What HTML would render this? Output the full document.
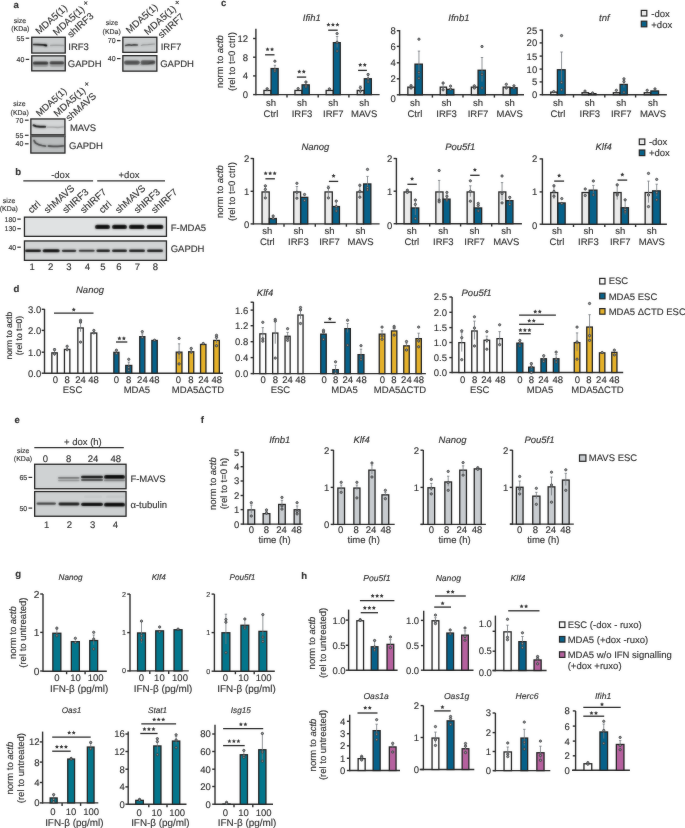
<!DOCTYPE html>
<html><head><meta charset="utf-8"><style>
html,body{margin:0;padding:0;background:#fff;width:685px;height:828px;overflow:hidden}
svg{display:block;font-family:"Liberation Sans",sans-serif;fill:#2e2e2e;will-change:transform;text-rendering:geometricPrecision}
text{stroke:#2e2e2e;stroke-width:0.14px;paint-order:stroke}
</style></head><body>
<svg width="685" height="828" viewBox="0 0 685 828">
<defs><filter id="bl" filterUnits="userSpaceOnUse" x="0" y="0" width="685" height="828" color-interpolation-filters="sRGB"><feGaussianBlur in="SourceGraphic" stdDeviation="0.85" result="b"/><feComposite in="SourceGraphic" in2="b" operator="arithmetic" k1="0" k2="0.45" k3="0.55" k4="0"/></filter>
<filter id="soft" filterUnits="userSpaceOnUse" x="0" y="0" width="685" height="828" color-interpolation-filters="sRGB"><feGaussianBlur in="SourceGraphic" stdDeviation="0.8" result="b"/><feComposite in="SourceGraphic" in2="b" operator="arithmetic" k1="0" k2="0.8" k3="0.2" k4="0"/></filter></defs>
<g filter="url(#soft)"><rect x="0" y="0" width="685" height="828" fill="#fff"/>
<text x="13.4" y="7.5" font-size="9.6" style="font-weight:bold;">a</text>
<rect x="31.75" y="37.25" width="33.5" height="15.8" fill="#c9cccd" stroke="#222" stroke-width="1.3"/>
<rect x="31.75" y="55.85" width="33.5" height="15" fill="#c9cccd" stroke="#222" stroke-width="1.3"/>
<path d="M33.6 44.5 L38 44.6 L43 44.9 L46.3 45.4" fill="none" stroke="#000" stroke-width="1.7" stroke-linecap="round" stroke-linejoin="round" opacity="1" filter="url(#bl)"/>
<path d="M45 45.3 L46.4 45.6" fill="none" stroke="#000" stroke-width="1.8" stroke-linecap="round" stroke-linejoin="round" opacity="0.8" filter="url(#bl)"/>
<path d="M50.5 45.5 L56 45.2 L63.5 45.5" fill="none" stroke="#000" stroke-width="1.3" stroke-linecap="round" stroke-linejoin="round" opacity="0.28" filter="url(#bl)"/>
<rect x="32.8" y="61.4" width="15.5" height="3" rx="1.5" fill="#000" opacity="0.72" filter="url(#bl)"/>
<rect x="49.5" y="61.2" width="14.7" height="3" rx="1.5" fill="#000" opacity="0.68" filter="url(#bl)"/>
<rect x="32.8" y="62.9" width="15.5" height="4.2" rx="2.1" fill="#000" opacity="0.22" filter="url(#bl)"/>
<rect x="49.5" y="62.9" width="14.7" height="4.2" rx="2.1" fill="#000" opacity="0.2" filter="url(#bl)"/>
<text x="20" y="22.52" font-size="7" text-anchor="middle">size</text>
<text x="20.3" y="31.42" font-size="7" text-anchor="middle">(KDa)</text>
<text x="24.3" y="40.72" font-size="7" text-anchor="end">55</text>
<line x1="25.7" y1="38.2" x2="29.2" y2="38.2" stroke="#2b2b2b" stroke-width="1.2"/>
<text x="24.3" y="61.92" font-size="7" text-anchor="end">40</text>
<line x1="25.7" y1="59.4" x2="29.2" y2="59.4" stroke="#2b2b2b" stroke-width="1.2"/>
<text x="68.3" y="49.62" font-size="9.5">IRF3</text>
<text x="67.8" y="67.02" font-size="9.5">GAPDH</text>
<text x="0" y="0" font-size="9.7" transform="translate(39 34.8) rotate(-42)">MDA5(1)</text>
<text x="0" y="0" font-size="9.7" transform="translate(56.4 36) rotate(-42)">MDA5(1) <tspan font-size="8.5" dy="-2.2">+</tspan></text>
<text x="0" y="0" font-size="9.7" transform="translate(71 37.9) rotate(-42)">shIRF3</text>
<rect x="122.85" y="37.25" width="34" height="15.1" fill="#c9cccd" stroke="#222" stroke-width="1.3"/>
<rect x="122.85" y="55.65" width="34" height="15.5" fill="#c9cccd" stroke="#222" stroke-width="1.3"/>
<path d="M125.5 45.4 L129 44.8 L131.5 45.2 L134 44.7 L137.4 45" fill="none" stroke="#000" stroke-width="1.5" stroke-linecap="round" stroke-linejoin="round" opacity="0.85" filter="url(#bl)"/>
<path d="M141.3 45.5 L143 44.9 L148 44.6 L154.5 44" fill="none" stroke="#000" stroke-width="1.2" stroke-linecap="round" stroke-linejoin="round" opacity="0.35" filter="url(#bl)"/>
<rect x="124" y="60.4" width="15.8" height="4.4" rx="2.2" fill="#000" opacity="0.62" filter="url(#bl)"/>
<rect x="140.6" y="60.3" width="14.6" height="4.2" rx="2.1" fill="#000" opacity="0.58" filter="url(#bl)"/>
<path d="M141 64.5 L148 64 L154.8 61.5" fill="none" stroke="#000" stroke-width="1.4" stroke-linecap="round" stroke-linejoin="round" opacity="0.3" filter="url(#bl)"/>
<text x="111.9" y="25.02" font-size="7" text-anchor="middle">size</text>
<text x="111.7" y="33.52" font-size="7" text-anchor="middle">(KDa)</text>
<text x="115.6" y="42.82" font-size="7" text-anchor="end">70</text>
<line x1="117" y1="40.6" x2="120.5" y2="40.6" stroke="#2b2b2b" stroke-width="1.3"/>
<text x="115.6" y="61.12" font-size="7" text-anchor="end">40</text>
<line x1="117" y1="58.6" x2="120.5" y2="58.6" stroke="#2b2b2b" stroke-width="1.2"/>
<text x="160.7" y="50.42" font-size="9.5">IRF7</text>
<text x="160.2" y="66.92" font-size="9.5">GAPDH</text>
<text x="0" y="0" font-size="9.7" transform="translate(129.6 33.9) rotate(-42)">MDA5(1)</text>
<text x="0" y="0" font-size="9.7" transform="translate(147.8 35.5) rotate(-42)">MDA5(1) <tspan font-size="8.5" dy="-2.2">+</tspan></text>
<text x="0" y="0" font-size="9.7" transform="translate(161.6 38.5) rotate(-42)">shIRF7</text>
<rect x="30.85" y="118.95" width="34.1" height="15.8" fill="#d4d6d7" stroke="#222" stroke-width="1.3"/>
<rect x="30.85" y="136.25" width="34.1" height="16.8" fill="#babdbe" stroke="#222" stroke-width="1.3"/>
<rect x="30.2" y="134.6" width="35.4" height="2.6" fill="#555"/>
<path d="M33.5 125.3 L36 126.2 L40 126.7 L45.2 126.8" fill="none" stroke="#000" stroke-width="2" stroke-linecap="round" stroke-linejoin="round" opacity="1" filter="url(#bl)"/>
<path d="M47.5 127.2 L53 127.2 L58 127.5 L63.5 126.8" fill="none" stroke="#000" stroke-width="1.3" stroke-linecap="round" stroke-linejoin="round" opacity="0.3" filter="url(#bl)"/>
<path d="M34 140.5 L35.5 143 L38.5 144.6 L42 145.5 L45.5 146.2" fill="none" stroke="#000" stroke-width="1.7" stroke-linecap="round" stroke-linejoin="round" opacity="0.72" filter="url(#bl)"/>
<path d="M48.5 146 L53 146.4 L58 146.4 L63.5 145.8" fill="none" stroke="#000" stroke-width="1.8" stroke-linecap="round" stroke-linejoin="round" opacity="0.7" filter="url(#bl)"/>
<text x="19.5" y="105.62" font-size="7" text-anchor="middle">size</text>
<text x="19.7" y="114.52" font-size="7" text-anchor="middle">(KDa)</text>
<text x="23.4" y="122.72" font-size="7" text-anchor="end">70</text>
<line x1="24.9" y1="120.2" x2="28.6" y2="120.2" stroke="#2b2b2b" stroke-width="1.2"/>
<text x="23.4" y="137.82" font-size="7" text-anchor="end">55</text>
<line x1="24.9" y1="135.3" x2="28.6" y2="135.3" stroke="#2b2b2b" stroke-width="1.2"/>
<text x="23.4" y="146.32" font-size="7" text-anchor="end">40</text>
<line x1="24.9" y1="143.8" x2="28.6" y2="143.8" stroke="#2b2b2b" stroke-width="1.2"/>
<text x="69.9" y="131.42" font-size="9.5">MAVS</text>
<text x="69" y="149.12" font-size="9.5">GAPDH</text>
<text x="0" y="0" font-size="9.4" transform="translate(39.4 117) rotate(-42)">MDA5(1)</text>
<text x="0" y="0" font-size="9.7" transform="translate(57.3 117.2) rotate(-42)">MDA5(1) <tspan font-size="8.5" dy="-2.2">+</tspan></text>
<text x="0" y="0" font-size="9.7" transform="translate(69.3 121.6) rotate(-42)">shMAVS</text>
<text x="15.3" y="174.6" font-size="9.6" style="font-weight:bold;">b</text>
<text x="60.4" y="178.42" font-size="9.5" text-anchor="middle">-dox</text>
<text x="129" y="178.42" font-size="9.5" text-anchor="middle">+dox</text>
<line x1="23.3" y1="180.9" x2="93.1" y2="180.9" stroke="#2b2b2b" stroke-width="1.2"/>
<line x1="97.2" y1="180.9" x2="165" y2="180.9" stroke="#2b2b2b" stroke-width="1.2"/>
<text x="9.1" y="202.62" font-size="7" text-anchor="middle">size</text>
<text x="8.8" y="211.12" font-size="7" text-anchor="middle">(KDa)</text>
<rect x="24.45" y="217.15" width="142" height="19.2" fill="#e0e2e3" stroke="#222" stroke-width="1.3"/>
<rect x="24.45" y="240.95" width="142" height="19.4" fill="#d2d4d5" stroke="#222" stroke-width="1.3"/>
<text x="16.2" y="221.62" font-size="7" text-anchor="end">180</text>
<line x1="17.3" y1="219.1" x2="20.8" y2="219.1" stroke="#2b2b2b" stroke-width="1.2"/>
<text x="16.2" y="231.22" font-size="7" text-anchor="end">130</text>
<line x1="17.3" y1="228.7" x2="20.8" y2="228.7" stroke="#2b2b2b" stroke-width="1.2"/>
<text x="16.2" y="249.72" font-size="7" text-anchor="end">40</text>
<line x1="17.3" y1="247.2" x2="20.8" y2="247.2" stroke="#2b2b2b" stroke-width="1.2"/>
<text x="170.7" y="230.82" font-size="9.5">F-MDA5</text>
<text x="170.7" y="252.02" font-size="9.5">GAPDH</text>
<rect x="95" y="224.7" width="15" height="4.4" rx="2.2" fill="#000" opacity="0.97" filter="url(#bl)"/>
<rect x="112" y="224.7" width="15" height="4.4" rx="2.2" fill="#000" opacity="0.97" filter="url(#bl)"/>
<rect x="128.9" y="224.7" width="15.7" height="4.4" rx="2.2" fill="#000" opacity="0.97" filter="url(#bl)"/>
<rect x="146.6" y="224.7" width="16.8" height="4.4" rx="2.2" fill="#000" opacity="0.97" filter="url(#bl)"/>
<rect x="25" y="249.5" width="16" height="2.6" rx="1.3" fill="#000" opacity="1" filter="url(#bl)"/>
<rect x="42.6" y="249.3" width="17.1" height="3" rx="1.5" fill="#000" opacity="1" filter="url(#bl)"/>
<rect x="61.8" y="249.65" width="14.5" height="2.3" rx="1.15" fill="#000" opacity="0.9" filter="url(#bl)"/>
<rect x="78.7" y="249.75" width="16" height="2.1" rx="1.05" fill="#000" opacity="0.85" filter="url(#bl)"/>
<rect x="96.4" y="249.6" width="13.6" height="2.4" rx="1.2" fill="#000" opacity="0.95" filter="url(#bl)"/>
<rect x="112" y="249.6" width="15" height="2.4" rx="1.2" fill="#000" opacity="0.95" filter="url(#bl)"/>
<rect x="129" y="249.6" width="16" height="2.4" rx="1.2" fill="#000" opacity="0.95" filter="url(#bl)"/>
<rect x="147" y="249.6" width="16" height="2.4" rx="1.2" fill="#000" opacity="0.95" filter="url(#bl)"/>
<text x="32.1" y="270.22" font-size="9.5" text-anchor="middle">1</text>
<text x="50.6" y="270.22" font-size="9.5" text-anchor="middle">2</text>
<text x="69" y="270.22" font-size="9.5" text-anchor="middle">3</text>
<text x="87.5" y="270.22" font-size="9.5" text-anchor="middle">4</text>
<text x="102.8" y="270.22" font-size="9.5" text-anchor="middle">5</text>
<text x="119" y="270.22" font-size="9.5" text-anchor="middle">6</text>
<text x="137.3" y="270.22" font-size="9.5" text-anchor="middle">7</text>
<text x="155.4" y="270.22" font-size="9.5" text-anchor="middle">8</text>
<text x="0" y="0" font-size="9.7" transform="translate(31.5 213.8) rotate(-42)">ctrl</text>
<text x="0" y="0" font-size="9.7" transform="translate(47.6 213.8) rotate(-42)">shMAVS</text>
<text x="0" y="0" font-size="9.7" transform="translate(66 213.8) rotate(-42)">shIRF3</text>
<text x="0" y="0" font-size="9.7" transform="translate(83.7 213.8) rotate(-42)">shIRF7</text>
<text x="0" y="0" font-size="9.7" transform="translate(102.4 213.8) rotate(-42)">ctrl</text>
<text x="0" y="0" font-size="9.7" transform="translate(118.7 213.8) rotate(-42)">shMAVS</text>
<text x="0" y="0" font-size="9.7" transform="translate(137.5 213.8) rotate(-42)">shIRF3</text>
<text x="0" y="0" font-size="9.7" transform="translate(154.8 213.8) rotate(-42)">shIRF7</text>
<text x="221" y="6" font-size="9.6" style="font-weight:bold;">c</text>
<line x1="255.9" y1="28.8" x2="255.9" y2="95.3" stroke="#2b2b2b" stroke-width="1.4"/>
<line x1="253.1" y1="38.5" x2="255.9" y2="38.5" stroke="#2b2b2b" stroke-width="1.4"/>
<text x="248" y="41.92" font-size="9.5" text-anchor="end">12</text>
<line x1="253.1" y1="57.2" x2="255.9" y2="57.2" stroke="#2b2b2b" stroke-width="1.4"/>
<text x="248" y="60.62" font-size="9.5" text-anchor="end">8</text>
<line x1="253.1" y1="75.9" x2="255.9" y2="75.9" stroke="#2b2b2b" stroke-width="1.4"/>
<text x="248" y="79.32" font-size="9.5" text-anchor="end">4</text>
<line x1="253.1" y1="94.6" x2="255.9" y2="94.6" stroke="#2b2b2b" stroke-width="1.4"/>
<text x="248" y="98.02" font-size="9.5" text-anchor="end">0</text>
<line x1="255.9" y1="94.6" x2="379.6" y2="94.6" stroke="#2b2b2b" stroke-width="1.4"/>
<line x1="287" y1="94.6" x2="287" y2="97.4" stroke="#2b2b2b" stroke-width="1.4"/>
<line x1="318.2" y1="94.6" x2="318.2" y2="97.4" stroke="#2b2b2b" stroke-width="1.4"/>
<line x1="348.9" y1="94.6" x2="348.9" y2="97.4" stroke="#2b2b2b" stroke-width="1.4"/>
<rect x="263.95" y="90.45" width="6.95" height="4.15" fill="#ebebeb" stroke="#222222" stroke-width="1.3"/>
<rect x="271.1" y="68.55" width="7.05" height="26.05" fill="#06618a" stroke="#222222" stroke-width="1.3"/>
<rect x="294.95" y="90.45" width="6.95" height="4.15" fill="#ebebeb" stroke="#222222" stroke-width="1.3"/>
<rect x="302.1" y="84.85" width="7.15" height="9.75" fill="#06618a" stroke="#222222" stroke-width="1.3"/>
<rect x="326.15" y="90.45" width="7.05" height="4.15" fill="#ebebeb" stroke="#222222" stroke-width="1.3"/>
<rect x="333.4" y="42.65" width="6.85" height="51.95" fill="#06618a" stroke="#222222" stroke-width="1.3"/>
<rect x="357.25" y="90.45" width="6.85" height="4.15" fill="#ebebeb" stroke="#222222" stroke-width="1.3"/>
<rect x="364.3" y="78.75" width="7.05" height="15.85" fill="#06618a" stroke="#222222" stroke-width="1.3"/>
<line x1="267.15" y1="91.3" x2="267.15" y2="88.3" stroke="#72777c" stroke-width="0.8"/>
<line x1="265.95" y1="88.3" x2="268.35" y2="88.3" stroke="#72777c" stroke-width="0.8"/>
<circle cx="267.15" cy="88.8" r="1.15" fill="#8a8f94" stroke="#3a3a3a" stroke-width="0.8"/>
<line x1="274.9" y1="70.5" x2="274.9" y2="65.3" stroke="#72777c" stroke-width="0.8"/>
<line x1="273.7" y1="65.3" x2="276.1" y2="65.3" stroke="#72777c" stroke-width="0.8"/>
<circle cx="274.9" cy="61.2" r="1.15" fill="#8a8f94" stroke="#3a3a3a" stroke-width="0.8"/>
<circle cx="274.9" cy="69.5" r="1.15" fill="#8a8f94" stroke="#3a3a3a" stroke-width="0.8"/>
<circle cx="274.9" cy="71.1" r="1.15" fill="#8a8f94" stroke="#3a3a3a" stroke-width="0.8"/>
<circle cx="298.15" cy="88.6" r="1.15" fill="#8a8f94" stroke="#3a3a3a" stroke-width="0.8"/>
<line x1="305.95" y1="86.4" x2="305.95" y2="82" stroke="#72777c" stroke-width="0.8"/>
<line x1="304.75" y1="82" x2="307.15" y2="82" stroke="#72777c" stroke-width="0.8"/>
<circle cx="305.95" cy="82" r="1.15" fill="#8a8f94" stroke="#3a3a3a" stroke-width="0.8"/>
<circle cx="305.95" cy="85.4" r="1.15" fill="#8a8f94" stroke="#3a3a3a" stroke-width="0.8"/>
<circle cx="305.95" cy="86.9" r="1.15" fill="#8a8f94" stroke="#3a3a3a" stroke-width="0.8"/>
<circle cx="329.4" cy="88.9" r="1.15" fill="#8a8f94" stroke="#3a3a3a" stroke-width="0.8"/>
<line x1="337.1" y1="47.5" x2="337.1" y2="36.5" stroke="#72777c" stroke-width="0.8"/>
<line x1="335.9" y1="36.5" x2="338.3" y2="36.5" stroke="#72777c" stroke-width="0.8"/>
<circle cx="337.1" cy="33.6" r="1.15" fill="#8a8f94" stroke="#3a3a3a" stroke-width="0.8"/>
<circle cx="337.1" cy="42.3" r="1.15" fill="#8a8f94" stroke="#3a3a3a" stroke-width="0.8"/>
<circle cx="337.1" cy="51.1" r="1.15" fill="#8a8f94" stroke="#3a3a3a" stroke-width="0.8"/>
<line x1="360.4" y1="93.6" x2="360.4" y2="86" stroke="#72777c" stroke-width="0.8"/>
<line x1="359.2" y1="86" x2="361.6" y2="86" stroke="#72777c" stroke-width="0.8"/>
<circle cx="360.4" cy="87.6" r="1.15" fill="#8a8f94" stroke="#3a3a3a" stroke-width="0.8"/>
<circle cx="360.4" cy="91.2" r="1.15" fill="#8a8f94" stroke="#3a3a3a" stroke-width="0.8"/>
<line x1="368.1" y1="82.2" x2="368.1" y2="74" stroke="#72777c" stroke-width="0.8"/>
<line x1="366.9" y1="74" x2="369.3" y2="74" stroke="#72777c" stroke-width="0.8"/>
<circle cx="368.1" cy="74.5" r="1.15" fill="#8a8f94" stroke="#3a3a3a" stroke-width="0.8"/>
<circle cx="368.1" cy="78.8" r="1.15" fill="#8a8f94" stroke="#3a3a3a" stroke-width="0.8"/>
<circle cx="368.1" cy="82" r="1.15" fill="#8a8f94" stroke="#3a3a3a" stroke-width="0.8"/>
<line x1="265.1" y1="54.8" x2="274.5" y2="54.8" stroke="#262626" stroke-width="1.3"/>
<polygon points="267.55,47.2 268.18,48.48 269.59,48.69 268.57,49.68 268.81,51.09 267.55,50.42 266.29,51.09 266.53,49.68 265.51,48.69 266.92,48.48" fill="#333"/>
<polygon points="272.05,47.2 272.68,48.48 274.09,48.69 273.07,49.68 273.31,51.09 272.05,50.42 270.79,51.09 271.03,49.68 270.01,48.69 271.42,48.48" fill="#333"/>
<line x1="296.9" y1="77.1" x2="306.2" y2="77.1" stroke="#262626" stroke-width="1.3"/>
<polygon points="299.3,69.5 299.93,70.78 301.34,70.99 300.32,71.98 300.56,73.39 299.3,72.72 298.04,73.39 298.28,71.98 297.26,70.99 298.67,70.78" fill="#333"/>
<polygon points="303.8,69.5 304.43,70.78 305.84,70.99 304.82,71.98 305.06,73.39 303.8,72.72 302.54,73.39 302.78,71.98 301.76,70.99 303.17,70.78" fill="#333"/>
<line x1="328.2" y1="30.2" x2="337.7" y2="30.2" stroke="#262626" stroke-width="1.3"/>
<polygon points="328.45,22.6 329.08,23.88 330.49,24.09 329.47,25.08 329.71,26.49 328.45,25.82 327.19,26.49 327.43,25.08 326.41,24.09 327.82,23.88" fill="#333"/>
<polygon points="332.95,22.6 333.58,23.88 334.99,24.09 333.97,25.08 334.21,26.49 332.95,25.82 331.69,26.49 331.93,25.08 330.91,24.09 332.32,23.88" fill="#333"/>
<polygon points="337.45,22.6 338.08,23.88 339.49,24.09 338.47,25.08 338.71,26.49 337.45,25.82 336.19,26.49 336.43,25.08 335.41,24.09 336.82,23.88" fill="#333"/>
<line x1="358.1" y1="70.4" x2="366.9" y2="70.4" stroke="#262626" stroke-width="1.3"/>
<polygon points="360.25,62.8 360.88,64.08 362.29,64.29 361.27,65.28 361.51,66.69 360.25,66.03 358.99,66.69 359.23,65.28 358.21,64.29 359.62,64.08" fill="#333"/>
<polygon points="364.75,62.8 365.38,64.08 366.79,64.29 365.77,65.28 366.01,66.69 364.75,66.03 363.49,66.69 363.73,65.28 362.71,64.29 364.12,64.08" fill="#333"/>
<text x="271" y="106" font-size="9.5" text-anchor="middle">sh</text>
<text x="271" y="116.7" font-size="9.5" text-anchor="middle">Ctrl</text>
<text x="302" y="106" font-size="9.5" text-anchor="middle">sh</text>
<text x="302" y="116.7" font-size="9.5" text-anchor="middle">IRF3</text>
<text x="333.3" y="106" font-size="9.5" text-anchor="middle">sh</text>
<text x="333.3" y="116.7" font-size="9.5" text-anchor="middle">IRF7</text>
<text x="364.2" y="106" font-size="9.5" text-anchor="middle">sh</text>
<text x="364.2" y="116.7" font-size="9.5" text-anchor="middle">MAVS</text>
<text x="311.8" y="20.52" font-size="9.5" text-anchor="middle" style="font-style:italic;">Ifih1</text>
<line x1="399.6" y1="30" x2="399.6" y2="95.5" stroke="#2b2b2b" stroke-width="1.4"/>
<line x1="396.8" y1="30.7" x2="399.6" y2="30.7" stroke="#2b2b2b" stroke-width="1.4"/>
<text x="395.8" y="34.12" font-size="9.5" text-anchor="end">8</text>
<line x1="396.8" y1="46.4" x2="399.6" y2="46.4" stroke="#2b2b2b" stroke-width="1.4"/>
<text x="395.8" y="49.82" font-size="9.5" text-anchor="end">6</text>
<line x1="396.8" y1="62.8" x2="399.6" y2="62.8" stroke="#2b2b2b" stroke-width="1.4"/>
<text x="395.8" y="66.22" font-size="9.5" text-anchor="end">4</text>
<line x1="396.8" y1="78.8" x2="399.6" y2="78.8" stroke="#2b2b2b" stroke-width="1.4"/>
<text x="395.8" y="82.22" font-size="9.5" text-anchor="end">2</text>
<line x1="396.8" y1="94.8" x2="399.6" y2="94.8" stroke="#2b2b2b" stroke-width="1.4"/>
<text x="395.8" y="101.72" font-size="9.5" text-anchor="end">0</text>
<line x1="399.6" y1="94.8" x2="524" y2="94.8" stroke="#2b2b2b" stroke-width="1.4"/>
<line x1="432.4" y1="94.8" x2="432.4" y2="97.6" stroke="#2b2b2b" stroke-width="1.4"/>
<line x1="463" y1="94.8" x2="463" y2="97.6" stroke="#2b2b2b" stroke-width="1.4"/>
<line x1="494.4" y1="94.8" x2="494.4" y2="97.6" stroke="#2b2b2b" stroke-width="1.4"/>
<rect x="407.85" y="87.15" width="6.95" height="7.65" fill="#ebebeb" stroke="#222222" stroke-width="1.3"/>
<rect x="415" y="64.15" width="7.35" height="30.65" fill="#06618a" stroke="#222222" stroke-width="1.3"/>
<rect x="440.25" y="87.15" width="6.25" height="7.65" fill="#ebebeb" stroke="#222222" stroke-width="1.3"/>
<rect x="446.7" y="89.35" width="7.15" height="5.45" fill="#06618a" stroke="#222222" stroke-width="1.3"/>
<rect x="471.35" y="87.15" width="6.55" height="7.65" fill="#ebebeb" stroke="#222222" stroke-width="1.3"/>
<rect x="478.1" y="70.25" width="7.25" height="24.55" fill="#06618a" stroke="#222222" stroke-width="1.3"/>
<rect x="503.15" y="87.15" width="6.85" height="7.65" fill="#ebebeb" stroke="#222222" stroke-width="1.3"/>
<rect x="510.2" y="87.75" width="6.95" height="7.05" fill="#06618a" stroke="#222222" stroke-width="1.3"/>
<line x1="411.05" y1="88.2" x2="411.05" y2="84.8" stroke="#72777c" stroke-width="0.8"/>
<line x1="409.85" y1="84.8" x2="412.25" y2="84.8" stroke="#72777c" stroke-width="0.8"/>
<circle cx="411.05" cy="85.8" r="1.15" fill="#8a8f94" stroke="#3a3a3a" stroke-width="0.8"/>
<circle cx="411.05" cy="88" r="1.15" fill="#8a8f94" stroke="#3a3a3a" stroke-width="0.8"/>
<line x1="418.95" y1="75.5" x2="418.95" y2="51.1" stroke="#72777c" stroke-width="0.8"/>
<line x1="417.75" y1="51.1" x2="420.15" y2="51.1" stroke="#72777c" stroke-width="0.8"/>
<circle cx="418.95" cy="39.2" r="1.15" fill="#8a8f94" stroke="#3a3a3a" stroke-width="0.8"/>
<circle cx="418.95" cy="72.4" r="1.15" fill="#8a8f94" stroke="#3a3a3a" stroke-width="0.8"/>
<circle cx="418.95" cy="78.3" r="1.15" fill="#8a8f94" stroke="#3a3a3a" stroke-width="0.8"/>
<line x1="443.1" y1="89.5" x2="443.1" y2="83.5" stroke="#72777c" stroke-width="0.8"/>
<line x1="441.9" y1="83.5" x2="444.3" y2="83.5" stroke="#72777c" stroke-width="0.8"/>
<circle cx="443.1" cy="83" r="1.15" fill="#8a8f94" stroke="#3a3a3a" stroke-width="0.8"/>
<circle cx="443.1" cy="89.8" r="1.15" fill="#8a8f94" stroke="#3a3a3a" stroke-width="0.8"/>
<circle cx="450.55" cy="86.1" r="1.15" fill="#8a8f94" stroke="#3a3a3a" stroke-width="0.8"/>
<circle cx="450.55" cy="89.2" r="1.15" fill="#8a8f94" stroke="#3a3a3a" stroke-width="0.8"/>
<circle cx="474.35" cy="85.8" r="1.15" fill="#8a8f94" stroke="#3a3a3a" stroke-width="0.8"/>
<circle cx="474.35" cy="88" r="1.15" fill="#8a8f94" stroke="#3a3a3a" stroke-width="0.8"/>
<line x1="482" y1="81.6" x2="482" y2="57.5" stroke="#72777c" stroke-width="0.8"/>
<line x1="480.8" y1="57.5" x2="483.2" y2="57.5" stroke="#72777c" stroke-width="0.8"/>
<circle cx="482" cy="46.5" r="1.15" fill="#8a8f94" stroke="#3a3a3a" stroke-width="0.8"/>
<circle cx="482" cy="74.3" r="1.15" fill="#8a8f94" stroke="#3a3a3a" stroke-width="0.8"/>
<circle cx="482" cy="88" r="1.15" fill="#8a8f94" stroke="#3a3a3a" stroke-width="0.8"/>
<circle cx="506.3" cy="84.3" r="1.15" fill="#8a8f94" stroke="#3a3a3a" stroke-width="0.8"/>
<circle cx="506.3" cy="88" r="1.15" fill="#8a8f94" stroke="#3a3a3a" stroke-width="0.8"/>
<circle cx="513.95" cy="85.8" r="1.15" fill="#8a8f94" stroke="#3a3a3a" stroke-width="0.8"/>
<circle cx="513.95" cy="88" r="1.15" fill="#8a8f94" stroke="#3a3a3a" stroke-width="0.8"/>
<text x="414.9" y="106" font-size="9.5" text-anchor="middle">sh</text>
<text x="414.9" y="116.7" font-size="9.5" text-anchor="middle">Ctrl</text>
<text x="446.6" y="106" font-size="9.5" text-anchor="middle">sh</text>
<text x="446.6" y="116.7" font-size="9.5" text-anchor="middle">IRF3</text>
<text x="478" y="106" font-size="9.5" text-anchor="middle">sh</text>
<text x="478" y="116.7" font-size="9.5" text-anchor="middle">IRF7</text>
<text x="509.7" y="106" font-size="9.5" text-anchor="middle">sh</text>
<text x="509.7" y="116.7" font-size="9.5" text-anchor="middle">MAVS</text>
<text x="458.9" y="20.72" font-size="9.5" text-anchor="middle" style="font-style:italic;">Ifnb1</text>
<line x1="542.4" y1="29.5" x2="542.4" y2="95.4" stroke="#2b2b2b" stroke-width="1.4"/>
<line x1="539.6" y1="30.1" x2="542.4" y2="30.1" stroke="#2b2b2b" stroke-width="1.4"/>
<text x="537.2" y="33.52" font-size="9.5" text-anchor="end">25</text>
<line x1="539.6" y1="42.9" x2="542.4" y2="42.9" stroke="#2b2b2b" stroke-width="1.4"/>
<text x="537.2" y="46.32" font-size="9.5" text-anchor="end">20</text>
<line x1="539.6" y1="56.1" x2="542.4" y2="56.1" stroke="#2b2b2b" stroke-width="1.4"/>
<text x="537.2" y="59.52" font-size="9.5" text-anchor="end">15</text>
<line x1="539.6" y1="69.1" x2="542.4" y2="69.1" stroke="#2b2b2b" stroke-width="1.4"/>
<text x="537.2" y="72.52" font-size="9.5" text-anchor="end">10</text>
<line x1="539.6" y1="81.9" x2="542.4" y2="81.9" stroke="#2b2b2b" stroke-width="1.4"/>
<text x="537.2" y="85.32" font-size="9.5" text-anchor="end">5</text>
<line x1="539.6" y1="94.7" x2="542.4" y2="94.7" stroke="#2b2b2b" stroke-width="1.4"/>
<text x="537.2" y="98.12" font-size="9.5" text-anchor="end">0</text>
<line x1="542.4" y1="94.7" x2="666.9" y2="94.7" stroke="#2b2b2b" stroke-width="1.4"/>
<line x1="573.5" y1="94.7" x2="573.5" y2="97.5" stroke="#2b2b2b" stroke-width="1.4"/>
<line x1="604.8" y1="94.7" x2="604.8" y2="97.5" stroke="#2b2b2b" stroke-width="1.4"/>
<line x1="635.6" y1="94.7" x2="635.6" y2="97.5" stroke="#2b2b2b" stroke-width="1.4"/>
<rect x="550.75" y="92.15" width="6.45" height="2.55" fill="#ebebeb" stroke="#222222" stroke-width="1.3"/>
<rect x="557.4" y="69.75" width="7.75" height="24.95" fill="#06618a" stroke="#222222" stroke-width="1.3"/>
<rect x="582.05" y="92.75" width="6.45" height="1.95" fill="#ebebeb" stroke="#222222" stroke-width="1.3"/>
<rect x="588.7" y="93.65" width="7.25" height="1.05" fill="#06618a" stroke="#222222" stroke-width="1.3"/>
<rect x="613.35" y="92.75" width="6.55" height="1.95" fill="#ebebeb" stroke="#222222" stroke-width="1.3"/>
<rect x="620.1" y="84.45" width="7.15" height="10.25" fill="#06618a" stroke="#222222" stroke-width="1.3"/>
<rect x="644.25" y="92.75" width="6.45" height="1.95" fill="#ebebeb" stroke="#222222" stroke-width="1.3"/>
<rect x="650.9" y="90.95" width="7.65" height="3.75" fill="#06618a" stroke="#222222" stroke-width="1.3"/>
<circle cx="553.7" cy="91.6" r="1.15" fill="#8a8f94" stroke="#3a3a3a" stroke-width="0.8"/>
<line x1="561.55" y1="81.1" x2="561.55" y2="52" stroke="#72777c" stroke-width="0.8"/>
<line x1="560.35" y1="52" x2="562.75" y2="52" stroke="#72777c" stroke-width="0.8"/>
<circle cx="561.55" cy="35.6" r="1.15" fill="#8a8f94" stroke="#3a3a3a" stroke-width="0.8"/>
<circle cx="561.55" cy="82.5" r="1.15" fill="#8a8f94" stroke="#3a3a3a" stroke-width="0.8"/>
<circle cx="561.55" cy="89.8" r="1.15" fill="#8a8f94" stroke="#3a3a3a" stroke-width="0.8"/>
<circle cx="585" cy="91.1" r="1.15" fill="#8a8f94" stroke="#3a3a3a" stroke-width="0.8"/>
<circle cx="592.6" cy="93" r="1.15" fill="#8a8f94" stroke="#3a3a3a" stroke-width="0.8"/>
<circle cx="616.35" cy="90.3" r="1.15" fill="#8a8f94" stroke="#3a3a3a" stroke-width="0.8"/>
<line x1="623.95" y1="87.6" x2="623.95" y2="80" stroke="#72777c" stroke-width="0.8"/>
<line x1="622.75" y1="80" x2="625.15" y2="80" stroke="#72777c" stroke-width="0.8"/>
<circle cx="623.95" cy="78.8" r="1.15" fill="#8a8f94" stroke="#3a3a3a" stroke-width="0.8"/>
<circle cx="623.95" cy="81.6" r="1.15" fill="#8a8f94" stroke="#3a3a3a" stroke-width="0.8"/>
<circle cx="623.95" cy="92.2" r="1.15" fill="#8a8f94" stroke="#3a3a3a" stroke-width="0.8"/>
<circle cx="647.2" cy="90.3" r="1.15" fill="#8a8f94" stroke="#3a3a3a" stroke-width="0.8"/>
<circle cx="655" cy="88.9" r="1.15" fill="#8a8f94" stroke="#3a3a3a" stroke-width="0.8"/>
<text x="558" y="106" font-size="9.5" text-anchor="middle">sh</text>
<text x="558" y="116.7" font-size="9.5" text-anchor="middle">Ctrl</text>
<text x="589.8" y="106" font-size="9.5" text-anchor="middle">sh</text>
<text x="589.8" y="116.7" font-size="9.5" text-anchor="middle">IRF3</text>
<text x="621.2" y="106" font-size="9.5" text-anchor="middle">sh</text>
<text x="621.2" y="116.7" font-size="9.5" text-anchor="middle">IRF7</text>
<text x="653" y="106" font-size="9.5" text-anchor="middle">sh</text>
<text x="653" y="116.7" font-size="9.5" text-anchor="middle">MAVS</text>
<text x="604.3" y="20.52" font-size="9.5" text-anchor="middle" style="font-style:italic;">tnf</text>
<line x1="253.4" y1="158" x2="253.4" y2="224.6" stroke="#2b2b2b" stroke-width="1.4"/>
<line x1="250.6" y1="158.5" x2="253.4" y2="158.5" stroke="#2b2b2b" stroke-width="1.4"/>
<text x="249.2" y="161.92" font-size="9.5" text-anchor="end">2</text>
<line x1="250.6" y1="191.3" x2="253.4" y2="191.3" stroke="#2b2b2b" stroke-width="1.4"/>
<text x="249.2" y="194.72" font-size="9.5" text-anchor="end">1</text>
<line x1="250.6" y1="223.9" x2="253.4" y2="223.9" stroke="#2b2b2b" stroke-width="1.4"/>
<text x="249.2" y="228.32" font-size="9.5" text-anchor="end">0</text>
<line x1="253.4" y1="223.9" x2="379.6" y2="223.9" stroke="#2b2b2b" stroke-width="1.4"/>
<line x1="284" y1="223.9" x2="284" y2="226.7" stroke="#2b2b2b" stroke-width="1.4"/>
<line x1="315.3" y1="223.9" x2="315.3" y2="226.7" stroke="#2b2b2b" stroke-width="1.4"/>
<line x1="346.4" y1="223.9" x2="346.4" y2="226.7" stroke="#2b2b2b" stroke-width="1.4"/>
<rect x="262.05" y="191.95" width="7.15" height="31.95" fill="#ebebeb" stroke="#222222" stroke-width="1.3"/>
<rect x="269.4" y="218.55" width="6.95" height="5.35" fill="#06618a" stroke="#222222" stroke-width="1.3"/>
<rect x="293.75" y="191.95" width="6.85" height="31.95" fill="#ebebeb" stroke="#222222" stroke-width="1.3"/>
<rect x="300.8" y="197.35" width="6.95" height="26.55" fill="#06618a" stroke="#222222" stroke-width="1.3"/>
<rect x="325.05" y="191.95" width="7.25" height="31.95" fill="#ebebeb" stroke="#222222" stroke-width="1.3"/>
<rect x="332.5" y="206.55" width="6.95" height="17.35" fill="#06618a" stroke="#222222" stroke-width="1.3"/>
<rect x="356.85" y="191.95" width="6.55" height="31.95" fill="#ebebeb" stroke="#222222" stroke-width="1.3"/>
<rect x="363.6" y="183.95" width="7.25" height="39.95" fill="#06618a" stroke="#222222" stroke-width="1.3"/>
<line x1="265.35" y1="196.1" x2="265.35" y2="186.5" stroke="#72777c" stroke-width="0.8"/>
<line x1="264.15" y1="186.5" x2="266.55" y2="186.5" stroke="#72777c" stroke-width="0.8"/>
<circle cx="265.35" cy="185.8" r="1.15" fill="#8a8f94" stroke="#3a3a3a" stroke-width="0.8"/>
<circle cx="265.35" cy="189.4" r="1.15" fill="#8a8f94" stroke="#3a3a3a" stroke-width="0.8"/>
<circle cx="265.35" cy="197.9" r="1.15" fill="#8a8f94" stroke="#3a3a3a" stroke-width="0.8"/>
<circle cx="273.15" cy="216" r="1.15" fill="#8a8f94" stroke="#3a3a3a" stroke-width="0.8"/>
<circle cx="273.15" cy="218.6" r="1.15" fill="#8a8f94" stroke="#3a3a3a" stroke-width="0.8"/>
<line x1="296.9" y1="196.1" x2="296.9" y2="186.5" stroke="#72777c" stroke-width="0.8"/>
<line x1="295.7" y1="186.5" x2="298.1" y2="186.5" stroke="#72777c" stroke-width="0.8"/>
<circle cx="296.9" cy="183.3" r="1.15" fill="#8a8f94" stroke="#3a3a3a" stroke-width="0.8"/>
<circle cx="296.9" cy="192.3" r="1.15" fill="#8a8f94" stroke="#3a3a3a" stroke-width="0.8"/>
<circle cx="296.9" cy="198.2" r="1.15" fill="#8a8f94" stroke="#3a3a3a" stroke-width="0.8"/>
<circle cx="304.55" cy="194.5" r="1.15" fill="#8a8f94" stroke="#3a3a3a" stroke-width="0.8"/>
<circle cx="304.55" cy="200.4" r="1.15" fill="#8a8f94" stroke="#3a3a3a" stroke-width="0.8"/>
<line x1="328.4" y1="196.6" x2="328.4" y2="186" stroke="#72777c" stroke-width="0.8"/>
<line x1="327.2" y1="186" x2="329.6" y2="186" stroke="#72777c" stroke-width="0.8"/>
<circle cx="328.4" cy="187.7" r="1.15" fill="#8a8f94" stroke="#3a3a3a" stroke-width="0.8"/>
<circle cx="328.4" cy="197.9" r="1.15" fill="#8a8f94" stroke="#3a3a3a" stroke-width="0.8"/>
<line x1="336.25" y1="211.3" x2="336.25" y2="200.5" stroke="#72777c" stroke-width="0.8"/>
<line x1="335.05" y1="200.5" x2="337.45" y2="200.5" stroke="#72777c" stroke-width="0.8"/>
<circle cx="336.25" cy="201.1" r="1.15" fill="#8a8f94" stroke="#3a3a3a" stroke-width="0.8"/>
<circle cx="336.25" cy="206.6" r="1.15" fill="#8a8f94" stroke="#3a3a3a" stroke-width="0.8"/>
<circle cx="336.25" cy="211" r="1.15" fill="#8a8f94" stroke="#3a3a3a" stroke-width="0.8"/>
<line x1="359.85" y1="196.4" x2="359.85" y2="186.2" stroke="#72777c" stroke-width="0.8"/>
<line x1="358.65" y1="186.2" x2="361.05" y2="186.2" stroke="#72777c" stroke-width="0.8"/>
<circle cx="359.85" cy="185.2" r="1.15" fill="#8a8f94" stroke="#3a3a3a" stroke-width="0.8"/>
<circle cx="359.85" cy="191.3" r="1.15" fill="#8a8f94" stroke="#3a3a3a" stroke-width="0.8"/>
<circle cx="359.85" cy="197.2" r="1.15" fill="#8a8f94" stroke="#3a3a3a" stroke-width="0.8"/>
<line x1="367.5" y1="190.2" x2="367.5" y2="176.4" stroke="#72777c" stroke-width="0.8"/>
<line x1="366.3" y1="176.4" x2="368.7" y2="176.4" stroke="#72777c" stroke-width="0.8"/>
<circle cx="367.5" cy="169.4" r="1.15" fill="#8a8f94" stroke="#3a3a3a" stroke-width="0.8"/>
<circle cx="367.5" cy="187.7" r="1.15" fill="#8a8f94" stroke="#3a3a3a" stroke-width="0.8"/>
<circle cx="367.5" cy="189.9" r="1.15" fill="#8a8f94" stroke="#3a3a3a" stroke-width="0.8"/>
<line x1="265.4" y1="178.8" x2="274.9" y2="178.8" stroke="#262626" stroke-width="1.3"/>
<polygon points="265.65,171.2 266.28,172.48 267.69,172.69 266.67,173.68 266.91,175.09 265.65,174.43 264.39,175.09 264.63,173.68 263.61,172.69 265.02,172.48" fill="#333"/>
<polygon points="270.15,171.2 270.78,172.48 272.19,172.69 271.17,173.68 271.41,175.09 270.15,174.43 268.89,175.09 269.13,173.68 268.11,172.69 269.52,172.48" fill="#333"/>
<polygon points="274.65,171.2 275.28,172.48 276.69,172.69 275.67,173.68 275.91,175.09 274.65,174.43 273.39,175.09 273.63,173.68 272.61,172.69 274.02,172.48" fill="#333"/>
<line x1="328.9" y1="181.4" x2="338.2" y2="181.4" stroke="#262626" stroke-width="1.3"/>
<polygon points="333.55,173.8 334.18,175.08 335.59,175.29 334.57,176.28 334.81,177.69 333.55,177.03 332.29,177.69 332.53,176.28 331.51,175.29 332.92,175.08" fill="#333"/>
<text x="267.3" y="234.1" font-size="9.5" text-anchor="middle">sh</text>
<text x="267.3" y="244.7" font-size="9.5" text-anchor="middle">Ctrl</text>
<text x="298.4" y="234.1" font-size="9.5" text-anchor="middle">sh</text>
<text x="298.4" y="244.7" font-size="9.5" text-anchor="middle">IRF3</text>
<text x="329.5" y="234.1" font-size="9.5" text-anchor="middle">sh</text>
<text x="329.5" y="244.7" font-size="9.5" text-anchor="middle">IRF7</text>
<text x="360.6" y="234.1" font-size="9.5" text-anchor="middle">sh</text>
<text x="360.6" y="244.7" font-size="9.5" text-anchor="middle">MAVS</text>
<text x="315.4" y="150.42" font-size="9.5" text-anchor="middle" style="font-style:italic;">Nanog</text>
<line x1="396.4" y1="158" x2="396.4" y2="224.4" stroke="#2b2b2b" stroke-width="1.4"/>
<line x1="393.6" y1="158.5" x2="396.4" y2="158.5" stroke="#2b2b2b" stroke-width="1.4"/>
<text x="392.2" y="161.92" font-size="9.5" text-anchor="end">2</text>
<line x1="393.6" y1="191.2" x2="396.4" y2="191.2" stroke="#2b2b2b" stroke-width="1.4"/>
<text x="392.2" y="194.62" font-size="9.5" text-anchor="end">1</text>
<line x1="393.6" y1="223.7" x2="396.4" y2="223.7" stroke="#2b2b2b" stroke-width="1.4"/>
<text x="392.2" y="228.52" font-size="9.5" text-anchor="end">0</text>
<line x1="396.4" y1="223.7" x2="521.9" y2="223.7" stroke="#2b2b2b" stroke-width="1.4"/>
<line x1="429.7" y1="223.7" x2="429.7" y2="226.5" stroke="#2b2b2b" stroke-width="1.4"/>
<line x1="460.6" y1="223.7" x2="460.6" y2="226.5" stroke="#2b2b2b" stroke-width="1.4"/>
<line x1="491.7" y1="223.7" x2="491.7" y2="226.5" stroke="#2b2b2b" stroke-width="1.4"/>
<rect x="404.05" y="191.95" width="7.15" height="31.75" fill="#ebebeb" stroke="#222222" stroke-width="1.3"/>
<rect x="411.4" y="207.95" width="7.35" height="15.75" fill="#06618a" stroke="#222222" stroke-width="1.3"/>
<rect x="435.85" y="191.95" width="7.15" height="31.75" fill="#ebebeb" stroke="#222222" stroke-width="1.3"/>
<rect x="443.2" y="199.15" width="6.85" height="24.55" fill="#06618a" stroke="#222222" stroke-width="1.3"/>
<rect x="467.15" y="191.95" width="6.95" height="31.75" fill="#ebebeb" stroke="#222222" stroke-width="1.3"/>
<rect x="474.3" y="207.95" width="7.35" height="15.75" fill="#06618a" stroke="#222222" stroke-width="1.3"/>
<rect x="498.85" y="191.95" width="6.95" height="31.75" fill="#ebebeb" stroke="#222222" stroke-width="1.3"/>
<rect x="506" y="200.65" width="6.95" height="23.05" fill="#06618a" stroke="#222222" stroke-width="1.3"/>
<circle cx="407.35" cy="190.2" r="1.15" fill="#8a8f94" stroke="#3a3a3a" stroke-width="0.8"/>
<circle cx="407.35" cy="192.4" r="1.15" fill="#8a8f94" stroke="#3a3a3a" stroke-width="0.8"/>
<line x1="415.35" y1="215" x2="415.35" y2="199.6" stroke="#72777c" stroke-width="0.8"/>
<line x1="414.15" y1="199.6" x2="416.55" y2="199.6" stroke="#72777c" stroke-width="0.8"/>
<circle cx="415.35" cy="200" r="1.15" fill="#8a8f94" stroke="#3a3a3a" stroke-width="0.8"/>
<circle cx="415.35" cy="204.4" r="1.15" fill="#8a8f94" stroke="#3a3a3a" stroke-width="0.8"/>
<circle cx="415.35" cy="218.7" r="1.15" fill="#8a8f94" stroke="#3a3a3a" stroke-width="0.8"/>
<line x1="439.15" y1="202.2" x2="439.15" y2="180.4" stroke="#72777c" stroke-width="0.8"/>
<line x1="437.95" y1="180.4" x2="440.35" y2="180.4" stroke="#72777c" stroke-width="0.8"/>
<circle cx="439.15" cy="170.5" r="1.15" fill="#8a8f94" stroke="#3a3a3a" stroke-width="0.8"/>
<circle cx="439.15" cy="200" r="1.15" fill="#8a8f94" stroke="#3a3a3a" stroke-width="0.8"/>
<circle cx="439.15" cy="201.8" r="1.15" fill="#8a8f94" stroke="#3a3a3a" stroke-width="0.8"/>
<line x1="446.9" y1="202" x2="446.9" y2="195" stroke="#72777c" stroke-width="0.8"/>
<line x1="445.7" y1="195" x2="448.1" y2="195" stroke="#72777c" stroke-width="0.8"/>
<circle cx="446.9" cy="192.4" r="1.15" fill="#8a8f94" stroke="#3a3a3a" stroke-width="0.8"/>
<circle cx="446.9" cy="196.3" r="1.15" fill="#8a8f94" stroke="#3a3a3a" stroke-width="0.8"/>
<circle cx="446.9" cy="200" r="1.15" fill="#8a8f94" stroke="#3a3a3a" stroke-width="0.8"/>
<line x1="470.35" y1="196.8" x2="470.35" y2="185.8" stroke="#72777c" stroke-width="0.8"/>
<line x1="469.15" y1="185.8" x2="471.55" y2="185.8" stroke="#72777c" stroke-width="0.8"/>
<circle cx="470.35" cy="180.8" r="1.15" fill="#8a8f94" stroke="#3a3a3a" stroke-width="0.8"/>
<circle cx="470.35" cy="191.3" r="1.15" fill="#8a8f94" stroke="#3a3a3a" stroke-width="0.8"/>
<circle cx="470.35" cy="201.2" r="1.15" fill="#8a8f94" stroke="#3a3a3a" stroke-width="0.8"/>
<circle cx="478.25" cy="203.4" r="1.15" fill="#8a8f94" stroke="#3a3a3a" stroke-width="0.8"/>
<circle cx="478.25" cy="205.5" r="1.15" fill="#8a8f94" stroke="#3a3a3a" stroke-width="0.8"/>
<circle cx="478.25" cy="211" r="1.15" fill="#8a8f94" stroke="#3a3a3a" stroke-width="0.8"/>
<line x1="502.05" y1="200" x2="502.05" y2="182.6" stroke="#72777c" stroke-width="0.8"/>
<line x1="500.85" y1="182.6" x2="503.25" y2="182.6" stroke="#72777c" stroke-width="0.8"/>
<circle cx="502.05" cy="176" r="1.15" fill="#8a8f94" stroke="#3a3a3a" stroke-width="0.8"/>
<circle cx="502.05" cy="193.5" r="1.15" fill="#8a8f94" stroke="#3a3a3a" stroke-width="0.8"/>
<circle cx="502.05" cy="202.9" r="1.15" fill="#8a8f94" stroke="#3a3a3a" stroke-width="0.8"/>
<line x1="509.75" y1="203.5" x2="509.75" y2="196.5" stroke="#72777c" stroke-width="0.8"/>
<line x1="508.55" y1="196.5" x2="510.95" y2="196.5" stroke="#72777c" stroke-width="0.8"/>
<circle cx="509.75" cy="197.4" r="1.15" fill="#8a8f94" stroke="#3a3a3a" stroke-width="0.8"/>
<circle cx="509.75" cy="204.4" r="1.15" fill="#8a8f94" stroke="#3a3a3a" stroke-width="0.8"/>
<line x1="407.4" y1="184.3" x2="416.8" y2="184.3" stroke="#262626" stroke-width="1.3"/>
<polygon points="412.1,176.7 412.73,177.98 414.14,178.19 413.12,179.18 413.36,180.59 412.1,179.93 410.84,180.59 411.08,179.18 410.06,178.19 411.47,177.98" fill="#333"/>
<line x1="470.2" y1="175.3" x2="479.6" y2="175.3" stroke="#262626" stroke-width="1.3"/>
<polygon points="474.9,167.7 475.53,168.98 476.94,169.19 475.92,170.18 476.16,171.59 474.9,170.93 473.64,171.59 473.88,170.18 472.86,169.19 474.27,168.98" fill="#333"/>
<text x="411.8" y="234.1" font-size="9.5" text-anchor="middle">sh</text>
<text x="411.8" y="244.7" font-size="9.5" text-anchor="middle">Ctrl</text>
<text x="443.3" y="234.1" font-size="9.5" text-anchor="middle">sh</text>
<text x="443.3" y="244.7" font-size="9.5" text-anchor="middle">IRF3</text>
<text x="474.6" y="234.1" font-size="9.5" text-anchor="middle">sh</text>
<text x="474.6" y="244.7" font-size="9.5" text-anchor="middle">IRF7</text>
<text x="506.3" y="234.1" font-size="9.5" text-anchor="middle">sh</text>
<text x="506.3" y="244.7" font-size="9.5" text-anchor="middle">MAVS</text>
<text x="460.2" y="150.42" font-size="9.5" text-anchor="middle" style="font-style:italic;">Pou5f1</text>
<line x1="542.4" y1="158.4" x2="542.4" y2="224.9" stroke="#2b2b2b" stroke-width="1.4"/>
<line x1="539.6" y1="158.9" x2="542.4" y2="158.9" stroke="#2b2b2b" stroke-width="1.4"/>
<text x="537.2" y="162.32" font-size="9.5" text-anchor="end">2</text>
<line x1="539.6" y1="191.9" x2="542.4" y2="191.9" stroke="#2b2b2b" stroke-width="1.4"/>
<text x="537.2" y="195.32" font-size="9.5" text-anchor="end">1</text>
<line x1="539.6" y1="224.2" x2="542.4" y2="224.2" stroke="#2b2b2b" stroke-width="1.4"/>
<text x="537.2" y="228.62" font-size="9.5" text-anchor="end">0</text>
<line x1="542.4" y1="224.2" x2="666.9" y2="224.2" stroke="#2b2b2b" stroke-width="1.4"/>
<line x1="573.5" y1="224.2" x2="573.5" y2="227" stroke="#2b2b2b" stroke-width="1.4"/>
<line x1="604.8" y1="224.2" x2="604.8" y2="227" stroke="#2b2b2b" stroke-width="1.4"/>
<line x1="635.6" y1="224.2" x2="635.6" y2="227" stroke="#2b2b2b" stroke-width="1.4"/>
<rect x="550.75" y="192.55" width="6.95" height="31.65" fill="#ebebeb" stroke="#222222" stroke-width="1.3"/>
<rect x="557.9" y="202.95" width="7.25" height="21.25" fill="#06618a" stroke="#222222" stroke-width="1.3"/>
<rect x="582.05" y="192.55" width="6.95" height="31.65" fill="#ebebeb" stroke="#222222" stroke-width="1.3"/>
<rect x="589.2" y="190.15" width="7.75" height="34.05" fill="#06618a" stroke="#222222" stroke-width="1.3"/>
<rect x="613.85" y="192.55" width="7.25" height="31.65" fill="#ebebeb" stroke="#222222" stroke-width="1.3"/>
<rect x="621.3" y="207.75" width="7.15" height="16.45" fill="#06618a" stroke="#222222" stroke-width="1.3"/>
<rect x="645.15" y="192.55" width="7.25" height="31.65" fill="#ebebeb" stroke="#222222" stroke-width="1.3"/>
<rect x="652.6" y="190.85" width="7.65" height="33.35" fill="#06618a" stroke="#222222" stroke-width="1.3"/>
<line x1="553.95" y1="198.9" x2="553.95" y2="184.9" stroke="#72777c" stroke-width="0.8"/>
<line x1="552.75" y1="184.9" x2="555.15" y2="184.9" stroke="#72777c" stroke-width="0.8"/>
<circle cx="553.95" cy="185.9" r="1.15" fill="#8a8f94" stroke="#3a3a3a" stroke-width="0.8"/>
<circle cx="553.95" cy="191.4" r="1.15" fill="#8a8f94" stroke="#3a3a3a" stroke-width="0.8"/>
<circle cx="553.95" cy="196.2" r="1.15" fill="#8a8f94" stroke="#3a3a3a" stroke-width="0.8"/>
<circle cx="561.8" cy="198.6" r="1.15" fill="#8a8f94" stroke="#3a3a3a" stroke-width="0.8"/>
<circle cx="561.8" cy="203.5" r="1.15" fill="#8a8f94" stroke="#3a3a3a" stroke-width="0.8"/>
<circle cx="585.25" cy="189" r="1.15" fill="#8a8f94" stroke="#3a3a3a" stroke-width="0.8"/>
<circle cx="585.25" cy="195.5" r="1.15" fill="#8a8f94" stroke="#3a3a3a" stroke-width="0.8"/>
<line x1="593.35" y1="193.6" x2="593.35" y2="185.4" stroke="#72777c" stroke-width="0.8"/>
<line x1="592.15" y1="185.4" x2="594.55" y2="185.4" stroke="#72777c" stroke-width="0.8"/>
<circle cx="593.35" cy="181" r="1.15" fill="#8a8f94" stroke="#3a3a3a" stroke-width="0.8"/>
<circle cx="593.35" cy="195" r="1.15" fill="#8a8f94" stroke="#3a3a3a" stroke-width="0.8"/>
<line x1="617.2" y1="199.6" x2="617.2" y2="184.2" stroke="#72777c" stroke-width="0.8"/>
<line x1="616" y1="184.2" x2="618.4" y2="184.2" stroke="#72777c" stroke-width="0.8"/>
<circle cx="617.2" cy="184.9" r="1.15" fill="#8a8f94" stroke="#3a3a3a" stroke-width="0.8"/>
<circle cx="617.2" cy="193.8" r="1.15" fill="#8a8f94" stroke="#3a3a3a" stroke-width="0.8"/>
<circle cx="617.2" cy="195" r="1.15" fill="#8a8f94" stroke="#3a3a3a" stroke-width="0.8"/>
<line x1="625.15" y1="214.4" x2="625.15" y2="199.8" stroke="#72777c" stroke-width="0.8"/>
<line x1="623.95" y1="199.8" x2="626.35" y2="199.8" stroke="#72777c" stroke-width="0.8"/>
<circle cx="625.15" cy="199.8" r="1.15" fill="#8a8f94" stroke="#3a3a3a" stroke-width="0.8"/>
<circle cx="625.15" cy="209.5" r="1.15" fill="#8a8f94" stroke="#3a3a3a" stroke-width="0.8"/>
<circle cx="625.15" cy="211.9" r="1.15" fill="#8a8f94" stroke="#3a3a3a" stroke-width="0.8"/>
<line x1="648.5" y1="202.7" x2="648.5" y2="181.1" stroke="#72777c" stroke-width="0.8"/>
<line x1="647.3" y1="181.1" x2="649.7" y2="181.1" stroke="#72777c" stroke-width="0.8"/>
<circle cx="648.5" cy="173.4" r="1.15" fill="#8a8f94" stroke="#3a3a3a" stroke-width="0.8"/>
<circle cx="648.5" cy="195" r="1.15" fill="#8a8f94" stroke="#3a3a3a" stroke-width="0.8"/>
<circle cx="648.5" cy="206.6" r="1.15" fill="#8a8f94" stroke="#3a3a3a" stroke-width="0.8"/>
<line x1="656.7" y1="196.2" x2="656.7" y2="184.2" stroke="#72777c" stroke-width="0.8"/>
<line x1="655.5" y1="184.2" x2="657.9" y2="184.2" stroke="#72777c" stroke-width="0.8"/>
<circle cx="656.7" cy="179.4" r="1.15" fill="#8a8f94" stroke="#3a3a3a" stroke-width="0.8"/>
<circle cx="656.7" cy="192.6" r="1.15" fill="#8a8f94" stroke="#3a3a3a" stroke-width="0.8"/>
<circle cx="656.7" cy="199.8" r="1.15" fill="#8a8f94" stroke="#3a3a3a" stroke-width="0.8"/>
<line x1="554.2" y1="181.1" x2="564.1" y2="181.1" stroke="#262626" stroke-width="1.3"/>
<polygon points="559.15,173.5 559.78,174.78 561.19,174.99 560.17,175.98 560.41,177.39 559.15,176.72 557.89,177.39 558.13,175.98 557.11,174.99 558.52,174.78" fill="#333"/>
<line x1="617.5" y1="180.1" x2="627.2" y2="180.1" stroke="#262626" stroke-width="1.3"/>
<polygon points="622.35,172.5 622.98,173.78 624.39,173.99 623.37,174.98 623.61,176.39 622.35,175.72 621.09,176.39 621.33,174.98 620.31,173.99 621.72,173.78" fill="#333"/>
<text x="557" y="234.1" font-size="9.5" text-anchor="middle">sh</text>
<text x="557" y="244.7" font-size="9.5" text-anchor="middle">Ctrl</text>
<text x="588.4" y="234.1" font-size="9.5" text-anchor="middle">sh</text>
<text x="588.4" y="244.7" font-size="9.5" text-anchor="middle">IRF3</text>
<text x="620.2" y="234.1" font-size="9.5" text-anchor="middle">sh</text>
<text x="620.2" y="244.7" font-size="9.5" text-anchor="middle">IRF7</text>
<text x="651.8" y="234.1" font-size="9.5" text-anchor="middle">sh</text>
<text x="651.8" y="244.7" font-size="9.5" text-anchor="middle">MAVS</text>
<text x="603.7" y="150.42" font-size="9.5" text-anchor="middle" style="font-style:italic;">Klf4</text>
<text x="0" y="0" font-size="9.5" text-anchor="middle" transform="translate(223.4 61.6) rotate(-90)">norm to <tspan font-style="italic">actb</tspan></text>
<text x="0" y="0" font-size="9.5" text-anchor="middle" transform="translate(234.8 61.6) rotate(-90)">(rel to t=0 ctrl)</text>
<text x="0" y="0" font-size="9.5" text-anchor="middle" transform="translate(223.4 191.6) rotate(-90)">norm to <tspan font-style="italic">actb</tspan></text>
<text x="0" y="0" font-size="9.5" text-anchor="middle" transform="translate(234.8 191.6) rotate(-90)">(rel to t=0 ctrl)</text>
<rect x="641.3" y="10.4" width="5.5" height="5.6" fill="#ebebeb" stroke="#222" stroke-width="1.2"/>
<text x="651.3" y="17.02" font-size="9.5">-dox</text>
<rect x="641.3" y="21.2" width="5.5" height="5.6" fill="#06618a" stroke="#222" stroke-width="1.2"/>
<text x="651.3" y="27.52" font-size="9.5">+dox</text>
<rect x="639.3" y="139" width="5.5" height="5.6" fill="#ebebeb" stroke="#222" stroke-width="1.2"/>
<text x="648.9" y="145.42" font-size="9.5">-dox</text>
<rect x="639.3" y="150" width="5.5" height="5.6" fill="#06618a" stroke="#222" stroke-width="1.2"/>
<text x="648.9" y="156.32" font-size="9.5">+dox</text>
<text x="13.4" y="291.8" font-size="9.6" style="font-weight:bold;">d</text>
<line x1="44.5" y1="308.9" x2="44.5" y2="373.9" stroke="#2b2b2b" stroke-width="1.4"/>
<line x1="41.7" y1="309.3" x2="44.5" y2="309.3" stroke="#2b2b2b" stroke-width="1.4"/>
<text x="41.3" y="312.72" font-size="9.5" text-anchor="end">3.0</text>
<line x1="41.7" y1="330.4" x2="44.5" y2="330.4" stroke="#2b2b2b" stroke-width="1.4"/>
<text x="41.3" y="333.82" font-size="9.5" text-anchor="end">2.0</text>
<line x1="41.7" y1="352.2" x2="44.5" y2="352.2" stroke="#2b2b2b" stroke-width="1.4"/>
<text x="41.3" y="355.62" font-size="9.5" text-anchor="end">1.0</text>
<line x1="41.7" y1="373.2" x2="44.5" y2="373.2" stroke="#2b2b2b" stroke-width="1.4"/>
<text x="41.3" y="376.62" font-size="9.5" text-anchor="end">0.0</text>
<line x1="44.5" y1="373.2" x2="223" y2="373.2" stroke="#2b2b2b" stroke-width="1.4"/>
<rect x="51.85" y="352.85" width="5.4" height="20.35" fill="#ffffff" stroke="#222222" stroke-width="1.3"/>
<rect x="64.45" y="349.45" width="5.4" height="23.75" fill="#ffffff" stroke="#222222" stroke-width="1.3"/>
<rect x="77.85" y="327.95" width="5.4" height="45.25" fill="#ffffff" stroke="#222222" stroke-width="1.3"/>
<rect x="90.95" y="333.05" width="5.8" height="40.15" fill="#ffffff" stroke="#222222" stroke-width="1.3"/>
<rect x="113.85" y="352.35" width="5.1" height="20.85" fill="#06618a" stroke="#222222" stroke-width="1.3"/>
<rect x="125.75" y="365.45" width="6" height="7.75" fill="#06618a" stroke="#222222" stroke-width="1.3"/>
<rect x="139.75" y="336.65" width="5.1" height="36.55" fill="#06618a" stroke="#222222" stroke-width="1.3"/>
<rect x="151.85" y="340.45" width="5.4" height="32.75" fill="#06618a" stroke="#222222" stroke-width="1.3"/>
<rect x="176.25" y="352.15" width="5.7" height="21.05" fill="#e6b22a" stroke="#222222" stroke-width="1.3"/>
<rect x="188.65" y="351.75" width="5.1" height="21.45" fill="#e6b22a" stroke="#222222" stroke-width="1.3"/>
<rect x="200.55" y="344.45" width="5.4" height="28.75" fill="#e6b22a" stroke="#222222" stroke-width="1.3"/>
<rect x="213.65" y="340.45" width="5.7" height="32.75" fill="#e6b22a" stroke="#222222" stroke-width="1.3"/>
<line x1="54.55" y1="355.9" x2="54.55" y2="348.5" stroke="#72777c" stroke-width="0.8"/>
<line x1="53.35" y1="348.5" x2="55.75" y2="348.5" stroke="#72777c" stroke-width="0.8"/>
<circle cx="54.55" cy="349.7" r="1.15" fill="#8a8f94" stroke="#3a3a3a" stroke-width="0.8"/>
<circle cx="54.55" cy="353.9" r="1.15" fill="#8a8f94" stroke="#3a3a3a" stroke-width="0.8"/>
<circle cx="67.15" cy="346.3" r="1.15" fill="#8a8f94" stroke="#3a3a3a" stroke-width="0.8"/>
<circle cx="67.15" cy="349.7" r="1.15" fill="#8a8f94" stroke="#3a3a3a" stroke-width="0.8"/>
<line x1="80.55" y1="331.8" x2="80.55" y2="322.8" stroke="#72777c" stroke-width="0.8"/>
<line x1="79.35" y1="322.8" x2="81.75" y2="322.8" stroke="#72777c" stroke-width="0.8"/>
<circle cx="80.55" cy="320.3" r="1.15" fill="#8a8f94" stroke="#3a3a3a" stroke-width="0.8"/>
<circle cx="80.55" cy="322" r="1.15" fill="#8a8f94" stroke="#3a3a3a" stroke-width="0.8"/>
<circle cx="80.55" cy="342.1" r="1.15" fill="#8a8f94" stroke="#3a3a3a" stroke-width="0.8"/>
<circle cx="93.85" cy="330.4" r="1.15" fill="#8a8f94" stroke="#3a3a3a" stroke-width="0.8"/>
<circle cx="93.85" cy="332.9" r="1.15" fill="#8a8f94" stroke="#3a3a3a" stroke-width="0.8"/>
<circle cx="116.4" cy="350.2" r="1.15" fill="#8a8f94" stroke="#3a3a3a" stroke-width="0.8"/>
<circle cx="116.4" cy="353.5" r="1.15" fill="#8a8f94" stroke="#3a3a3a" stroke-width="0.8"/>
<line x1="128.75" y1="367.5" x2="128.75" y2="362.1" stroke="#72777c" stroke-width="0.8"/>
<line x1="127.55" y1="362.1" x2="129.95" y2="362.1" stroke="#72777c" stroke-width="0.8"/>
<circle cx="128.75" cy="359.3" r="1.15" fill="#8a8f94" stroke="#3a3a3a" stroke-width="0.8"/>
<circle cx="128.75" cy="367.6" r="1.15" fill="#8a8f94" stroke="#3a3a3a" stroke-width="0.8"/>
<circle cx="128.75" cy="370.3" r="1.15" fill="#8a8f94" stroke="#3a3a3a" stroke-width="0.8"/>
<line x1="142.3" y1="338.2" x2="142.3" y2="333.8" stroke="#72777c" stroke-width="0.8"/>
<line x1="141.1" y1="333.8" x2="143.5" y2="333.8" stroke="#72777c" stroke-width="0.8"/>
<circle cx="142.3" cy="331.6" r="1.15" fill="#8a8f94" stroke="#3a3a3a" stroke-width="0.8"/>
<circle cx="142.3" cy="337.4" r="1.15" fill="#8a8f94" stroke="#3a3a3a" stroke-width="0.8"/>
<circle cx="154.55" cy="340.2" r="1.15" fill="#8a8f94" stroke="#3a3a3a" stroke-width="0.8"/>
<line x1="179.1" y1="359.2" x2="179.1" y2="343.8" stroke="#72777c" stroke-width="0.8"/>
<line x1="177.9" y1="343.8" x2="180.3" y2="343.8" stroke="#72777c" stroke-width="0.8"/>
<circle cx="179.1" cy="338.4" r="1.15" fill="#8a8f94" stroke="#3a3a3a" stroke-width="0.8"/>
<circle cx="179.1" cy="353" r="1.15" fill="#8a8f94" stroke="#3a3a3a" stroke-width="0.8"/>
<circle cx="179.1" cy="363.9" r="1.15" fill="#8a8f94" stroke="#3a3a3a" stroke-width="0.8"/>
<line x1="191.2" y1="353.8" x2="191.2" y2="348.4" stroke="#72777c" stroke-width="0.8"/>
<line x1="190" y1="348.4" x2="192.4" y2="348.4" stroke="#72777c" stroke-width="0.8"/>
<circle cx="191.2" cy="348.4" r="1.15" fill="#8a8f94" stroke="#3a3a3a" stroke-width="0.8"/>
<circle cx="191.2" cy="352" r="1.15" fill="#8a8f94" stroke="#3a3a3a" stroke-width="0.8"/>
<circle cx="203.25" cy="343.5" r="1.15" fill="#8a8f94" stroke="#3a3a3a" stroke-width="0.8"/>
<line x1="216.5" y1="343.1" x2="216.5" y2="336.5" stroke="#72777c" stroke-width="0.8"/>
<line x1="215.3" y1="336.5" x2="217.7" y2="336.5" stroke="#72777c" stroke-width="0.8"/>
<circle cx="216.5" cy="335.3" r="1.15" fill="#8a8f94" stroke="#3a3a3a" stroke-width="0.8"/>
<circle cx="216.5" cy="337.4" r="1.15" fill="#8a8f94" stroke="#3a3a3a" stroke-width="0.8"/>
<circle cx="216.5" cy="345.7" r="1.15" fill="#8a8f94" stroke="#3a3a3a" stroke-width="0.8"/>
<text x="55.4" y="383.42" font-size="9.5" text-anchor="middle">0</text>
<text x="67.1" y="383.42" font-size="9.5" text-anchor="middle">8</text>
<text x="80.6" y="383.42" font-size="9.5" text-anchor="middle">24</text>
<text x="93.5" y="383.42" font-size="9.5" text-anchor="middle">48</text>
<text x="116.3" y="383.42" font-size="9.5" text-anchor="middle">0</text>
<text x="128.7" y="383.42" font-size="9.5" text-anchor="middle">8</text>
<text x="142.4" y="383.42" font-size="9.5" text-anchor="middle">24</text>
<text x="154.3" y="383.42" font-size="9.5" text-anchor="middle">48</text>
<text x="178.5" y="383.42" font-size="9.5" text-anchor="middle">0</text>
<text x="190.8" y="383.42" font-size="9.5" text-anchor="middle">8</text>
<text x="203.5" y="383.42" font-size="9.5" text-anchor="middle">24</text>
<text x="216.7" y="383.42" font-size="9.5" text-anchor="middle">48</text>
<text x="72.5" y="393.42" font-size="9.5" text-anchor="middle">ESC</text>
<text x="136.9" y="393.42" font-size="9.5" text-anchor="middle">MDA5</text>
<text x="198" y="393.42" font-size="9.5" text-anchor="middle">MDA5ΔCTD</text>
<line x1="54" y1="313.2" x2="93.5" y2="313.2" stroke="#262626" stroke-width="1.3"/>
<polygon points="73.75,307.5 74.38,308.78 75.79,308.99 74.77,309.98 75.01,311.39 73.75,310.72 72.49,311.39 72.73,309.98 71.71,308.99 73.12,308.78" fill="#333"/>
<line x1="116" y1="342" x2="127.3" y2="342" stroke="#262626" stroke-width="1.3"/>
<polygon points="119.4,336.3 120.03,337.58 121.44,337.79 120.42,338.78 120.66,340.19 119.4,339.52 118.14,340.19 118.38,338.78 117.36,337.79 118.77,337.58" fill="#333"/>
<polygon points="123.9,336.3 124.53,337.58 125.94,337.79 124.92,338.78 125.16,340.19 123.9,339.52 122.64,340.19 122.88,338.78 121.86,337.79 123.27,337.58" fill="#333"/>
<text x="90" y="292.62" font-size="9.5" text-anchor="middle" style="font-style:italic;">Nanog</text>
<line x1="253.4" y1="301.9" x2="253.4" y2="374.3" stroke="#2b2b2b" stroke-width="1.4"/>
<line x1="250.6" y1="302.2" x2="253.4" y2="302.2" stroke="#2b2b2b" stroke-width="1.4"/>
<line x1="250.6" y1="310.1" x2="253.4" y2="310.1" stroke="#2b2b2b" stroke-width="1.4"/>
<text x="248.2" y="313.52" font-size="9.5" text-anchor="end">1.6</text>
<line x1="250.6" y1="325.7" x2="253.4" y2="325.7" stroke="#2b2b2b" stroke-width="1.4"/>
<text x="248.2" y="329.12" font-size="9.5" text-anchor="end">1.2</text>
<line x1="250.6" y1="341.7" x2="253.4" y2="341.7" stroke="#2b2b2b" stroke-width="1.4"/>
<text x="248.2" y="345.12" font-size="9.5" text-anchor="end">0.8</text>
<line x1="250.6" y1="357.6" x2="253.4" y2="357.6" stroke="#2b2b2b" stroke-width="1.4"/>
<text x="248.2" y="361.02" font-size="9.5" text-anchor="end">0.4</text>
<line x1="250.6" y1="373.6" x2="253.4" y2="373.6" stroke="#2b2b2b" stroke-width="1.4"/>
<text x="248.2" y="377.02" font-size="9.5" text-anchor="end">0.0</text>
<line x1="253.4" y1="373.6" x2="425.9" y2="373.6" stroke="#2b2b2b" stroke-width="1.4"/>
<rect x="259.85" y="333.85" width="5.9" height="39.75" fill="#ffffff" stroke="#222222" stroke-width="1.3"/>
<rect x="272.65" y="333.05" width="5.2" height="40.55" fill="#ffffff" stroke="#222222" stroke-width="1.3"/>
<rect x="285.05" y="336.25" width="5.1" height="37.35" fill="#ffffff" stroke="#222222" stroke-width="1.3"/>
<rect x="297.95" y="315.05" width="5.1" height="58.55" fill="#ffffff" stroke="#222222" stroke-width="1.3"/>
<rect x="320.75" y="334.15" width="5.5" height="39.45" fill="#06618a" stroke="#222222" stroke-width="1.3"/>
<rect x="332.85" y="369.65" width="5.4" height="3.95" fill="#06618a" stroke="#222222" stroke-width="1.3"/>
<rect x="344.85" y="328.65" width="5.5" height="44.95" fill="#06618a" stroke="#222222" stroke-width="1.3"/>
<rect x="358.05" y="354.65" width="5.9" height="18.95" fill="#06618a" stroke="#222222" stroke-width="1.3"/>
<rect x="379.25" y="334.15" width="5.6" height="39.45" fill="#e6b22a" stroke="#222222" stroke-width="1.3"/>
<rect x="391.45" y="330.95" width="5.4" height="42.65" fill="#e6b22a" stroke="#222222" stroke-width="1.3"/>
<rect x="403.75" y="345.85" width="5.5" height="27.75" fill="#e6b22a" stroke="#222222" stroke-width="1.3"/>
<rect x="415.95" y="338.65" width="5.4" height="34.95" fill="#e6b22a" stroke="#222222" stroke-width="1.3"/>
<line x1="262.8" y1="338.8" x2="262.8" y2="327.6" stroke="#72777c" stroke-width="0.8"/>
<line x1="261.6" y1="327.6" x2="264" y2="327.6" stroke="#72777c" stroke-width="0.8"/>
<circle cx="262.8" cy="322.3" r="1.15" fill="#8a8f94" stroke="#3a3a3a" stroke-width="0.8"/>
<circle cx="262.8" cy="338.8" r="1.15" fill="#8a8f94" stroke="#3a3a3a" stroke-width="0.8"/>
<circle cx="262.8" cy="341.2" r="1.15" fill="#8a8f94" stroke="#3a3a3a" stroke-width="0.8"/>
<line x1="275.25" y1="343.7" x2="275.25" y2="321.1" stroke="#72777c" stroke-width="0.8"/>
<line x1="274.05" y1="321.1" x2="276.45" y2="321.1" stroke="#72777c" stroke-width="0.8"/>
<circle cx="275.25" cy="319.5" r="1.15" fill="#8a8f94" stroke="#3a3a3a" stroke-width="0.8"/>
<circle cx="275.25" cy="321.1" r="1.15" fill="#8a8f94" stroke="#3a3a3a" stroke-width="0.8"/>
<circle cx="275.25" cy="358.1" r="1.15" fill="#8a8f94" stroke="#3a3a3a" stroke-width="0.8"/>
<line x1="287.6" y1="338.8" x2="287.6" y2="332.4" stroke="#72777c" stroke-width="0.8"/>
<line x1="286.4" y1="332.4" x2="288.8" y2="332.4" stroke="#72777c" stroke-width="0.8"/>
<circle cx="287.6" cy="328.7" r="1.15" fill="#8a8f94" stroke="#3a3a3a" stroke-width="0.8"/>
<circle cx="287.6" cy="338" r="1.15" fill="#8a8f94" stroke="#3a3a3a" stroke-width="0.8"/>
<circle cx="287.6" cy="340.4" r="1.15" fill="#8a8f94" stroke="#3a3a3a" stroke-width="0.8"/>
<line x1="300.5" y1="318.9" x2="300.5" y2="309.9" stroke="#72777c" stroke-width="0.8"/>
<line x1="299.3" y1="309.9" x2="301.7" y2="309.9" stroke="#72777c" stroke-width="0.8"/>
<circle cx="300.5" cy="307.5" r="1.15" fill="#8a8f94" stroke="#3a3a3a" stroke-width="0.8"/>
<circle cx="300.5" cy="309.9" r="1.15" fill="#8a8f94" stroke="#3a3a3a" stroke-width="0.8"/>
<circle cx="300.5" cy="323.5" r="1.15" fill="#8a8f94" stroke="#3a3a3a" stroke-width="0.8"/>
<circle cx="323.5" cy="330.3" r="1.15" fill="#8a8f94" stroke="#3a3a3a" stroke-width="0.8"/>
<circle cx="323.5" cy="331.9" r="1.15" fill="#8a8f94" stroke="#3a3a3a" stroke-width="0.8"/>
<circle cx="323.5" cy="339.3" r="1.15" fill="#8a8f94" stroke="#3a3a3a" stroke-width="0.8"/>
<line x1="335.55" y1="372.7" x2="335.55" y2="365.3" stroke="#72777c" stroke-width="0.8"/>
<line x1="334.35" y1="365.3" x2="336.75" y2="365.3" stroke="#72777c" stroke-width="0.8"/>
<circle cx="335.55" cy="361.8" r="1.15" fill="#8a8f94" stroke="#3a3a3a" stroke-width="0.8"/>
<circle cx="335.55" cy="373" r="1.15" fill="#8a8f94" stroke="#3a3a3a" stroke-width="0.8"/>
<line x1="347.6" y1="332.5" x2="347.6" y2="323.5" stroke="#72777c" stroke-width="0.8"/>
<line x1="346.4" y1="323.5" x2="348.8" y2="323.5" stroke="#72777c" stroke-width="0.8"/>
<circle cx="347.6" cy="320.3" r="1.15" fill="#8a8f94" stroke="#3a3a3a" stroke-width="0.8"/>
<circle cx="347.6" cy="345.2" r="1.15" fill="#8a8f94" stroke="#3a3a3a" stroke-width="0.8"/>
<line x1="361" y1="358.8" x2="361" y2="349.2" stroke="#72777c" stroke-width="0.8"/>
<line x1="359.8" y1="349.2" x2="362.2" y2="349.2" stroke="#72777c" stroke-width="0.8"/>
<circle cx="361" cy="345.7" r="1.15" fill="#8a8f94" stroke="#3a3a3a" stroke-width="0.8"/>
<circle cx="361" cy="357" r="1.15" fill="#8a8f94" stroke="#3a3a3a" stroke-width="0.8"/>
<circle cx="361" cy="359.7" r="1.15" fill="#8a8f94" stroke="#3a3a3a" stroke-width="0.8"/>
<line x1="382.05" y1="336.2" x2="382.05" y2="330.8" stroke="#72777c" stroke-width="0.8"/>
<line x1="380.85" y1="330.8" x2="383.25" y2="330.8" stroke="#72777c" stroke-width="0.8"/>
<circle cx="382.05" cy="327.1" r="1.15" fill="#8a8f94" stroke="#3a3a3a" stroke-width="0.8"/>
<circle cx="382.05" cy="336.1" r="1.15" fill="#8a8f94" stroke="#3a3a3a" stroke-width="0.8"/>
<circle cx="382.05" cy="339.3" r="1.15" fill="#8a8f94" stroke="#3a3a3a" stroke-width="0.8"/>
<circle cx="394.15" cy="326.4" r="1.15" fill="#8a8f94" stroke="#3a3a3a" stroke-width="0.8"/>
<circle cx="394.15" cy="328" r="1.15" fill="#8a8f94" stroke="#3a3a3a" stroke-width="0.8"/>
<circle cx="394.15" cy="335.1" r="1.15" fill="#8a8f94" stroke="#3a3a3a" stroke-width="0.8"/>
<line x1="406.5" y1="347.3" x2="406.5" y2="343.1" stroke="#72777c" stroke-width="0.8"/>
<line x1="405.3" y1="343.1" x2="407.7" y2="343.1" stroke="#72777c" stroke-width="0.8"/>
<circle cx="406.5" cy="341.5" r="1.15" fill="#8a8f94" stroke="#3a3a3a" stroke-width="0.8"/>
<circle cx="406.5" cy="350" r="1.15" fill="#8a8f94" stroke="#3a3a3a" stroke-width="0.8"/>
<line x1="418.65" y1="342.8" x2="418.65" y2="333.2" stroke="#72777c" stroke-width="0.8"/>
<line x1="417.45" y1="333.2" x2="419.85" y2="333.2" stroke="#72777c" stroke-width="0.8"/>
<circle cx="418.65" cy="327.1" r="1.15" fill="#8a8f94" stroke="#3a3a3a" stroke-width="0.8"/>
<circle cx="418.65" cy="340.9" r="1.15" fill="#8a8f94" stroke="#3a3a3a" stroke-width="0.8"/>
<circle cx="418.65" cy="346.8" r="1.15" fill="#8a8f94" stroke="#3a3a3a" stroke-width="0.8"/>
<text x="263.2" y="383.42" font-size="9.5" text-anchor="middle">0</text>
<text x="275.3" y="383.42" font-size="9.5" text-anchor="middle">8</text>
<text x="287.6" y="383.42" font-size="9.5" text-anchor="middle">24</text>
<text x="300.5" y="383.42" font-size="9.5" text-anchor="middle">48</text>
<text x="324.1" y="383.42" font-size="9.5" text-anchor="middle">0</text>
<text x="335.7" y="383.42" font-size="9.5" text-anchor="middle">8</text>
<text x="347.7" y="383.42" font-size="9.5" text-anchor="middle">24</text>
<text x="361.4" y="383.42" font-size="9.5" text-anchor="middle">48</text>
<text x="382.3" y="383.42" font-size="9.5" text-anchor="middle">0</text>
<text x="394" y="383.42" font-size="9.5" text-anchor="middle">8</text>
<text x="406.4" y="383.42" font-size="9.5" text-anchor="middle">24</text>
<text x="418.7" y="383.42" font-size="9.5" text-anchor="middle">48</text>
<text x="280.4" y="393.42" font-size="9.5" text-anchor="middle">ESC</text>
<text x="344.5" y="393.42" font-size="9.5" text-anchor="middle">MDA5</text>
<text x="400" y="393.42" font-size="9.5" text-anchor="middle">MDA5ΔCTD</text>
<line x1="324.1" y1="322.4" x2="335.7" y2="322.4" stroke="#262626" stroke-width="1.3"/>
<polygon points="329.9,316.7 330.53,317.98 331.94,318.19 330.92,319.18 331.16,320.59 329.9,319.92 328.64,320.59 328.88,319.18 327.86,318.19 329.27,317.98" fill="#333"/>
<text x="265" y="296.02" font-size="9.5" text-anchor="middle" style="font-style:italic;">Klf4</text>
<line x1="452.1" y1="297" x2="452.1" y2="373.2" stroke="#2b2b2b" stroke-width="1.4"/>
<line x1="449.3" y1="297" x2="452.1" y2="297" stroke="#2b2b2b" stroke-width="1.4"/>
<text x="447" y="300.42" font-size="9.5" text-anchor="end">2.5</text>
<line x1="449.3" y1="312.3" x2="452.1" y2="312.3" stroke="#2b2b2b" stroke-width="1.4"/>
<text x="447" y="315.72" font-size="9.5" text-anchor="end">2.0</text>
<line x1="449.3" y1="327.6" x2="452.1" y2="327.6" stroke="#2b2b2b" stroke-width="1.4"/>
<text x="447" y="331.02" font-size="9.5" text-anchor="end">1.5</text>
<line x1="449.3" y1="342.5" x2="452.1" y2="342.5" stroke="#2b2b2b" stroke-width="1.4"/>
<text x="447" y="345.92" font-size="9.5" text-anchor="end">1.0</text>
<line x1="449.3" y1="357.6" x2="452.1" y2="357.6" stroke="#2b2b2b" stroke-width="1.4"/>
<text x="447" y="361.02" font-size="9.5" text-anchor="end">0.5</text>
<line x1="449.3" y1="372.5" x2="452.1" y2="372.5" stroke="#2b2b2b" stroke-width="1.4"/>
<text x="447" y="375.92" font-size="9.5" text-anchor="end">0.0</text>
<line x1="452.1" y1="372.5" x2="623.2" y2="372.5" stroke="#2b2b2b" stroke-width="1.4"/>
<rect x="458.85" y="342.65" width="5.8" height="29.85" fill="#ffffff" stroke="#222222" stroke-width="1.3"/>
<rect x="471.75" y="330.95" width="5.4" height="41.55" fill="#ffffff" stroke="#222222" stroke-width="1.3"/>
<rect x="484.05" y="340.25" width="5.6" height="32.25" fill="#ffffff" stroke="#222222" stroke-width="1.3"/>
<rect x="496.95" y="338.65" width="5.4" height="33.85" fill="#ffffff" stroke="#222222" stroke-width="1.3"/>
<rect x="516.85" y="343.15" width="6" height="29.35" fill="#06618a" stroke="#222222" stroke-width="1.3"/>
<rect x="528.65" y="367.25" width="5.4" height="5.25" fill="#06618a" stroke="#222222" stroke-width="1.3"/>
<rect x="540.95" y="358.75" width="5.5" height="13.75" fill="#06618a" stroke="#222222" stroke-width="1.3"/>
<rect x="553.35" y="358.75" width="5.6" height="13.75" fill="#06618a" stroke="#222222" stroke-width="1.3"/>
<rect x="574.25" y="342.65" width="5.6" height="29.85" fill="#e6b22a" stroke="#222222" stroke-width="1.3"/>
<rect x="586.75" y="327.05" width="5.6" height="45.45" fill="#e6b22a" stroke="#222222" stroke-width="1.3"/>
<rect x="599.45" y="352.85" width="5.4" height="19.65" fill="#e6b22a" stroke="#222222" stroke-width="1.3"/>
<rect x="611.75" y="352.35" width="5.2" height="20.15" fill="#e6b22a" stroke="#222222" stroke-width="1.3"/>
<line x1="461.75" y1="351.6" x2="461.75" y2="332.4" stroke="#72777c" stroke-width="0.8"/>
<line x1="460.55" y1="332.4" x2="462.95" y2="332.4" stroke="#72777c" stroke-width="0.8"/>
<circle cx="461.75" cy="330.8" r="1.15" fill="#8a8f94" stroke="#3a3a3a" stroke-width="0.8"/>
<circle cx="461.75" cy="337.7" r="1.15" fill="#8a8f94" stroke="#3a3a3a" stroke-width="0.8"/>
<circle cx="461.75" cy="359.7" r="1.15" fill="#8a8f94" stroke="#3a3a3a" stroke-width="0.8"/>
<line x1="474.45" y1="339.5" x2="474.45" y2="321.1" stroke="#72777c" stroke-width="0.8"/>
<line x1="473.25" y1="321.1" x2="475.65" y2="321.1" stroke="#72777c" stroke-width="0.8"/>
<circle cx="474.45" cy="316.8" r="1.15" fill="#8a8f94" stroke="#3a3a3a" stroke-width="0.8"/>
<circle cx="474.45" cy="328" r="1.15" fill="#8a8f94" stroke="#3a3a3a" stroke-width="0.8"/>
<circle cx="474.45" cy="346" r="1.15" fill="#8a8f94" stroke="#3a3a3a" stroke-width="0.8"/>
<line x1="486.85" y1="343.1" x2="486.85" y2="336.1" stroke="#72777c" stroke-width="0.8"/>
<line x1="485.65" y1="336.1" x2="488.05" y2="336.1" stroke="#72777c" stroke-width="0.8"/>
<circle cx="486.85" cy="331.6" r="1.15" fill="#8a8f94" stroke="#3a3a3a" stroke-width="0.8"/>
<circle cx="486.85" cy="340.4" r="1.15" fill="#8a8f94" stroke="#3a3a3a" stroke-width="0.8"/>
<circle cx="486.85" cy="349.2" r="1.15" fill="#8a8f94" stroke="#3a3a3a" stroke-width="0.8"/>
<line x1="499.65" y1="344.4" x2="499.65" y2="331.6" stroke="#72777c" stroke-width="0.8"/>
<line x1="498.45" y1="331.6" x2="500.85" y2="331.6" stroke="#72777c" stroke-width="0.8"/>
<circle cx="499.65" cy="324.8" r="1.15" fill="#8a8f94" stroke="#3a3a3a" stroke-width="0.8"/>
<circle cx="499.65" cy="344.7" r="1.15" fill="#8a8f94" stroke="#3a3a3a" stroke-width="0.8"/>
<circle cx="519.85" cy="340.4" r="1.15" fill="#8a8f94" stroke="#3a3a3a" stroke-width="0.8"/>
<circle cx="519.85" cy="342.8" r="1.15" fill="#8a8f94" stroke="#3a3a3a" stroke-width="0.8"/>
<circle cx="519.85" cy="346" r="1.15" fill="#8a8f94" stroke="#3a3a3a" stroke-width="0.8"/>
<line x1="531.35" y1="370.3" x2="531.35" y2="362.9" stroke="#72777c" stroke-width="0.8"/>
<line x1="530.15" y1="362.9" x2="532.55" y2="362.9" stroke="#72777c" stroke-width="0.8"/>
<circle cx="531.35" cy="363.7" r="1.15" fill="#8a8f94" stroke="#3a3a3a" stroke-width="0.8"/>
<circle cx="531.35" cy="366.9" r="1.15" fill="#8a8f94" stroke="#3a3a3a" stroke-width="0.8"/>
<circle cx="531.35" cy="372.5" r="1.15" fill="#8a8f94" stroke="#3a3a3a" stroke-width="0.8"/>
<circle cx="543.7" cy="355.7" r="1.15" fill="#8a8f94" stroke="#3a3a3a" stroke-width="0.8"/>
<circle cx="543.7" cy="358.9" r="1.15" fill="#8a8f94" stroke="#3a3a3a" stroke-width="0.8"/>
<circle cx="543.7" cy="361.3" r="1.15" fill="#8a8f94" stroke="#3a3a3a" stroke-width="0.8"/>
<line x1="556.15" y1="361.8" x2="556.15" y2="354.4" stroke="#72777c" stroke-width="0.8"/>
<line x1="554.95" y1="354.4" x2="557.35" y2="354.4" stroke="#72777c" stroke-width="0.8"/>
<circle cx="556.15" cy="352.1" r="1.15" fill="#8a8f94" stroke="#3a3a3a" stroke-width="0.8"/>
<circle cx="556.15" cy="359.2" r="1.15" fill="#8a8f94" stroke="#3a3a3a" stroke-width="0.8"/>
<circle cx="556.15" cy="362.1" r="1.15" fill="#8a8f94" stroke="#3a3a3a" stroke-width="0.8"/>
<line x1="577.05" y1="351.1" x2="577.05" y2="332.9" stroke="#72777c" stroke-width="0.8"/>
<line x1="575.85" y1="332.9" x2="578.25" y2="332.9" stroke="#72777c" stroke-width="0.8"/>
<circle cx="577.05" cy="327.1" r="1.15" fill="#8a8f94" stroke="#3a3a3a" stroke-width="0.8"/>
<circle cx="577.05" cy="342" r="1.15" fill="#8a8f94" stroke="#3a3a3a" stroke-width="0.8"/>
<circle cx="577.05" cy="359.2" r="1.15" fill="#8a8f94" stroke="#3a3a3a" stroke-width="0.8"/>
<line x1="589.55" y1="338.1" x2="589.55" y2="314.7" stroke="#72777c" stroke-width="0.8"/>
<line x1="588.35" y1="314.7" x2="590.75" y2="314.7" stroke="#72777c" stroke-width="0.8"/>
<circle cx="589.55" cy="303.5" r="1.15" fill="#8a8f94" stroke="#3a3a3a" stroke-width="0.8"/>
<circle cx="589.55" cy="335.6" r="1.15" fill="#8a8f94" stroke="#3a3a3a" stroke-width="0.8"/>
<circle cx="589.55" cy="340.4" r="1.15" fill="#8a8f94" stroke="#3a3a3a" stroke-width="0.8"/>
<circle cx="602.15" cy="352.5" r="1.15" fill="#8a8f94" stroke="#3a3a3a" stroke-width="0.8"/>
<circle cx="614.35" cy="350.1" r="1.15" fill="#8a8f94" stroke="#3a3a3a" stroke-width="0.8"/>
<circle cx="614.35" cy="354.9" r="1.15" fill="#8a8f94" stroke="#3a3a3a" stroke-width="0.8"/>
<text x="462.6" y="383.42" font-size="9.5" text-anchor="middle">0</text>
<text x="474.6" y="383.42" font-size="9.5" text-anchor="middle">8</text>
<text x="486.6" y="383.42" font-size="9.5" text-anchor="middle">24</text>
<text x="500.3" y="383.42" font-size="9.5" text-anchor="middle">48</text>
<text x="519.8" y="383.42" font-size="9.5" text-anchor="middle">0</text>
<text x="531.5" y="383.42" font-size="9.5" text-anchor="middle">8</text>
<text x="543.5" y="383.42" font-size="9.5" text-anchor="middle">24</text>
<text x="557.7" y="383.42" font-size="9.5" text-anchor="middle">48</text>
<text x="577.3" y="383.42" font-size="9.5" text-anchor="middle">0</text>
<text x="589" y="383.42" font-size="9.5" text-anchor="middle">8</text>
<text x="601.4" y="383.42" font-size="9.5" text-anchor="middle">24</text>
<text x="614.3" y="383.42" font-size="9.5" text-anchor="middle">48</text>
<text x="479.7" y="393.42" font-size="9.5" text-anchor="middle">ESC</text>
<text x="540" y="393.42" font-size="9.5" text-anchor="middle">MDA5</text>
<text x="597.5" y="393.42" font-size="9.5" text-anchor="middle">MDA5ΔCTD</text>
<line x1="519.1" y1="333.7" x2="530.7" y2="333.7" stroke="#262626" stroke-width="1.3"/>
<polygon points="520.4,328 521.03,329.28 522.44,329.49 521.42,330.48 521.66,331.89 520.4,331.22 519.14,331.89 519.38,330.48 518.36,329.49 519.77,329.28" fill="#333"/>
<polygon points="524.9,328 525.53,329.28 526.94,329.49 525.92,330.48 526.16,331.89 524.9,331.22 523.64,331.89 523.88,330.48 522.86,329.49 524.27,329.28" fill="#333"/>
<polygon points="529.4,328 530.03,329.28 531.44,329.49 530.42,330.48 530.66,331.89 529.4,331.22 528.14,331.89 528.38,330.48 527.36,329.49 528.77,329.28" fill="#333"/>
<line x1="519.1" y1="324.3" x2="543.9" y2="324.3" stroke="#262626" stroke-width="1.3"/>
<polygon points="529.25,318.6 529.88,319.88 531.29,320.09 530.27,321.08 530.51,322.49 529.25,321.82 527.99,322.49 528.23,321.08 527.21,320.09 528.62,319.88" fill="#333"/>
<polygon points="533.75,318.6 534.38,319.88 535.79,320.09 534.77,321.08 535.01,322.49 533.75,321.82 532.49,322.49 532.73,321.08 531.71,320.09 533.12,319.88" fill="#333"/>
<line x1="519.1" y1="315.2" x2="555.9" y2="315.2" stroke="#262626" stroke-width="1.3"/>
<polygon points="535.25,309.5 535.88,310.78 537.29,310.99 536.27,311.98 536.51,313.39 535.25,312.72 533.99,313.39 534.23,311.98 533.21,310.99 534.62,310.78" fill="#333"/>
<polygon points="539.75,309.5 540.38,310.78 541.79,310.99 540.77,311.98 541.01,313.39 539.75,312.72 538.49,313.39 538.73,311.98 537.71,310.99 539.12,310.78" fill="#333"/>
<text x="476.6" y="295.92" font-size="9.5" text-anchor="middle" style="font-style:italic;">Pou5f1</text>
<text x="0" y="0" font-size="8.6" text-anchor="middle" transform="translate(12.1 335.6) rotate(-90)">norm to actb</text>
<text x="0" y="0" font-size="8.6" text-anchor="middle" transform="translate(22 335.6) rotate(-90)">(rel to t=0)</text>
<rect x="599.7" y="278.4" width="5.3" height="5.6" fill="#ffffff" stroke="#222" stroke-width="1.2"/>
<text x="608.7" y="284.42" font-size="9.5">ESC</text>
<rect x="599.7" y="293.2" width="5.3" height="5.6" fill="#06618a" stroke="#222" stroke-width="1.2"/>
<text x="608.7" y="299.72" font-size="9.5">MDA5 ESC</text>
<rect x="599.7" y="308.6" width="5.3" height="5.6" fill="#e6b22a" stroke="#222" stroke-width="1.2"/>
<text x="608.7" y="315.02" font-size="9.5">MDA5 ΔCTD ESC</text>
<text x="14.6" y="423.1" font-size="9.6" style="font-weight:bold;">e</text>
<text x="82.9" y="444.82" font-size="9.5" text-anchor="middle">+ dox (h)</text>
<line x1="34.3" y1="447.7" x2="123.8" y2="447.7" stroke="#2b2b2b" stroke-width="1.2"/>
<text x="23.3" y="453.42" font-size="7" text-anchor="middle">size</text>
<text x="23" y="461.42" font-size="7" text-anchor="middle">(KDa)</text>
<text x="45.3" y="461.92" font-size="9.5" text-anchor="middle">0</text>
<text x="68.6" y="461.92" font-size="9.5" text-anchor="middle">8</text>
<text x="93" y="461.92" font-size="9.5" text-anchor="middle">24</text>
<text x="115.8" y="461.92" font-size="9.5" text-anchor="middle">48</text>
<rect x="34.65" y="464.25" width="91.4" height="24.5" fill="#cfd2d3" stroke="#222" stroke-width="1.3"/>
<rect x="34.65" y="491.55" width="91.4" height="24.7" fill="#cdd0d1" stroke="#222" stroke-width="1.3"/>
<text x="27.2" y="479.92" font-size="7" text-anchor="end">65</text>
<line x1="28.5" y1="477.4" x2="32.2" y2="477.4" stroke="#2b2b2b" stroke-width="1.2"/>
<text x="27.2" y="510.62" font-size="7" text-anchor="end">50</text>
<line x1="28.5" y1="508.1" x2="32.2" y2="508.1" stroke="#2b2b2b" stroke-width="1.2"/>
<text x="130.4" y="481.82" font-size="9.5">F-MAVS</text>
<text x="130.4" y="507.82" font-size="9.5">α-tubulin</text>
<text x="46.7" y="527.92" font-size="9.5" text-anchor="middle">1</text>
<text x="69.3" y="527.92" font-size="9.5" text-anchor="middle">2</text>
<text x="92.7" y="527.92" font-size="9.5" text-anchor="middle">3</text>
<text x="115.5" y="527.92" font-size="9.5" text-anchor="middle">4</text>
<rect x="58" y="476.95" width="21.5" height="1.7" rx="0.85" fill="#000" opacity="0.5" filter="url(#bl)"/>
<rect x="58" y="479.85" width="21.5" height="1.5" rx="0.75" fill="#000" opacity="0.35" filter="url(#bl)"/>
<rect x="81" y="475.8" width="22" height="2.4" rx="1.2" fill="#000" opacity="1" filter="url(#bl)"/>
<rect x="81" y="479" width="22" height="2" rx="1" fill="#000" opacity="0.7" filter="url(#bl)"/>
<rect x="104" y="475" width="21" height="3.8" rx="1.9" fill="#000" opacity="1" filter="url(#bl)"/>
<rect x="104" y="479.5" width="21" height="1.8" rx="0.9" fill="#000" opacity="0.45" filter="url(#bl)"/>
<rect x="36.5" y="502.5" width="19.5" height="2.2" rx="1.1" fill="#000" opacity="0.75" filter="url(#bl)"/>
<rect x="58.5" y="502.6" width="21" height="2.8" rx="1.4" fill="#000" opacity="0.92" filter="url(#bl)"/>
<rect x="81" y="502.7" width="22" height="3.2" rx="1.6" fill="#000" opacity="1" filter="url(#bl)"/>
<rect x="104" y="502.8" width="21" height="3.8" rx="1.9" fill="#000" opacity="1" filter="url(#bl)"/>
<rect x="84" y="495.6" width="18" height="2.4" rx="1.2" fill="#000" opacity="0.03" filter="url(#bl)"/>
<rect x="106" y="495.5" width="18.5" height="2.6" rx="1.3" fill="#000" opacity="0.04" filter="url(#bl)"/>
<text x="200.8" y="423.2" font-size="9.6" style="font-weight:bold;">f</text>
<line x1="243.4" y1="451.9" x2="243.4" y2="524.8" stroke="#2b2b2b" stroke-width="1.4"/>
<line x1="240.6" y1="452.2" x2="243.4" y2="452.2" stroke="#2b2b2b" stroke-width="1.4"/>
<text x="239.2" y="455.62" font-size="9.5" text-anchor="end">5</text>
<line x1="240.6" y1="466.7" x2="243.4" y2="466.7" stroke="#2b2b2b" stroke-width="1.4"/>
<text x="239.2" y="470.12" font-size="9.5" text-anchor="end">4</text>
<line x1="240.6" y1="481" x2="243.4" y2="481" stroke="#2b2b2b" stroke-width="1.4"/>
<text x="239.2" y="484.42" font-size="9.5" text-anchor="end">3</text>
<line x1="240.6" y1="495.5" x2="243.4" y2="495.5" stroke="#2b2b2b" stroke-width="1.4"/>
<text x="239.2" y="498.92" font-size="9.5" text-anchor="end">2</text>
<line x1="240.6" y1="509.6" x2="243.4" y2="509.6" stroke="#2b2b2b" stroke-width="1.4"/>
<text x="239.2" y="513.02" font-size="9.5" text-anchor="end">1</text>
<line x1="240.6" y1="524.1" x2="243.4" y2="524.1" stroke="#2b2b2b" stroke-width="1.4"/>
<text x="239.2" y="527.52" font-size="9.5" text-anchor="end">0</text>
<line x1="243.4" y1="524.1" x2="302.6" y2="524.1" stroke="#2b2b2b" stroke-width="1.4"/>
<rect x="247.95" y="509.85" width="6.7" height="14.25" fill="#c8ccd0" stroke="#222222" stroke-width="1.3"/>
<rect x="263.15" y="513.65" width="6.7" height="10.45" fill="#c8ccd0" stroke="#222222" stroke-width="1.3"/>
<rect x="278.65" y="504.45" width="6.6" height="19.65" fill="#c8ccd0" stroke="#222222" stroke-width="1.3"/>
<rect x="294.15" y="509.75" width="5.9" height="14.35" fill="#c8ccd0" stroke="#222222" stroke-width="1.3"/>
<line x1="251.3" y1="513.3" x2="251.3" y2="505.1" stroke="#72777c" stroke-width="0.8"/>
<line x1="250.1" y1="505.1" x2="252.5" y2="505.1" stroke="#72777c" stroke-width="0.8"/>
<circle cx="251.3" cy="502.7" r="1.15" fill="#8a8f94" stroke="#3a3a3a" stroke-width="0.8"/>
<circle cx="251.3" cy="516" r="1.15" fill="#8a8f94" stroke="#3a3a3a" stroke-width="0.8"/>
<line x1="266.5" y1="514.5" x2="266.5" y2="511.5" stroke="#72777c" stroke-width="0.8"/>
<line x1="265.3" y1="511.5" x2="267.7" y2="511.5" stroke="#72777c" stroke-width="0.8"/>
<circle cx="266.5" cy="509.9" r="1.15" fill="#8a8f94" stroke="#3a3a3a" stroke-width="0.8"/>
<circle cx="266.5" cy="513.1" r="1.15" fill="#8a8f94" stroke="#3a3a3a" stroke-width="0.8"/>
<line x1="281.95" y1="507.3" x2="281.95" y2="500.3" stroke="#72777c" stroke-width="0.8"/>
<line x1="280.75" y1="500.3" x2="283.15" y2="500.3" stroke="#72777c" stroke-width="0.8"/>
<circle cx="281.95" cy="497.4" r="1.15" fill="#8a8f94" stroke="#3a3a3a" stroke-width="0.8"/>
<circle cx="281.95" cy="505.9" r="1.15" fill="#8a8f94" stroke="#3a3a3a" stroke-width="0.8"/>
<circle cx="281.95" cy="509.1" r="1.15" fill="#8a8f94" stroke="#3a3a3a" stroke-width="0.8"/>
<line x1="297.1" y1="512.3" x2="297.1" y2="505.9" stroke="#72777c" stroke-width="0.8"/>
<line x1="295.9" y1="505.9" x2="298.3" y2="505.9" stroke="#72777c" stroke-width="0.8"/>
<circle cx="297.1" cy="502.7" r="1.15" fill="#8a8f94" stroke="#3a3a3a" stroke-width="0.8"/>
<circle cx="297.1" cy="511.5" r="1.15" fill="#8a8f94" stroke="#3a3a3a" stroke-width="0.8"/>
<circle cx="297.1" cy="513.9" r="1.15" fill="#8a8f94" stroke="#3a3a3a" stroke-width="0.8"/>
<text x="251.3" y="533.42" font-size="9.5" text-anchor="middle">0</text>
<text x="266.5" y="533.42" font-size="9.5" text-anchor="middle">8</text>
<text x="281.5" y="533.42" font-size="9.5" text-anchor="middle">24</text>
<text x="296.5" y="533.42" font-size="9.5" text-anchor="middle">48</text>
<text x="274.5" y="543.12" font-size="9.5" text-anchor="middle">time (h)</text>
<text x="279.7" y="442.62" font-size="9.5" text-anchor="middle" style="font-style:italic;">Ifnb1</text>
<line x1="333.5" y1="449.9" x2="333.5" y2="525.1" stroke="#2b2b2b" stroke-width="1.4"/>
<line x1="330.7" y1="450.2" x2="333.5" y2="450.2" stroke="#2b2b2b" stroke-width="1.4"/>
<text x="329.3" y="453.62" font-size="9.5" text-anchor="end">2</text>
<line x1="330.7" y1="487.4" x2="333.5" y2="487.4" stroke="#2b2b2b" stroke-width="1.4"/>
<text x="329.3" y="490.82" font-size="9.5" text-anchor="end">1</text>
<line x1="330.7" y1="524.4" x2="333.5" y2="524.4" stroke="#2b2b2b" stroke-width="1.4"/>
<text x="329.3" y="527.82" font-size="9.5" text-anchor="end">0</text>
<line x1="333.5" y1="524.4" x2="394.7" y2="524.4" stroke="#2b2b2b" stroke-width="1.4"/>
<rect x="337.85" y="488.05" width="6.7" height="36.35" fill="#c8ccd0" stroke="#222222" stroke-width="1.3"/>
<rect x="353.85" y="488.05" width="6.1" height="36.35" fill="#c8ccd0" stroke="#222222" stroke-width="1.3"/>
<rect x="368.85" y="470.15" width="6.2" height="54.25" fill="#c8ccd0" stroke="#222222" stroke-width="1.3"/>
<rect x="381.95" y="494.85" width="6.8" height="29.55" fill="#c8ccd0" stroke="#222222" stroke-width="1.3"/>
<line x1="341.2" y1="489.8" x2="341.2" y2="485" stroke="#72777c" stroke-width="0.8"/>
<line x1="340" y1="485" x2="342.4" y2="485" stroke="#72777c" stroke-width="0.8"/>
<circle cx="341.2" cy="482.3" r="1.15" fill="#8a8f94" stroke="#3a3a3a" stroke-width="0.8"/>
<circle cx="341.2" cy="492.3" r="1.15" fill="#8a8f94" stroke="#3a3a3a" stroke-width="0.8"/>
<line x1="356.9" y1="489.8" x2="356.9" y2="485" stroke="#72777c" stroke-width="0.8"/>
<line x1="355.7" y1="485" x2="358.1" y2="485" stroke="#72777c" stroke-width="0.8"/>
<circle cx="356.9" cy="482.3" r="1.15" fill="#8a8f94" stroke="#3a3a3a" stroke-width="0.8"/>
<circle cx="356.9" cy="497.9" r="1.15" fill="#8a8f94" stroke="#3a3a3a" stroke-width="0.8"/>
<line x1="371.95" y1="474" x2="371.95" y2="465" stroke="#72777c" stroke-width="0.8"/>
<line x1="370.75" y1="465" x2="373.15" y2="465" stroke="#72777c" stroke-width="0.8"/>
<circle cx="371.95" cy="463" r="1.15" fill="#8a8f94" stroke="#3a3a3a" stroke-width="0.8"/>
<circle cx="371.95" cy="477" r="1.15" fill="#8a8f94" stroke="#3a3a3a" stroke-width="0.8"/>
<line x1="385.35" y1="496.1" x2="385.35" y2="492.3" stroke="#72777c" stroke-width="0.8"/>
<line x1="384.15" y1="492.3" x2="386.55" y2="492.3" stroke="#72777c" stroke-width="0.8"/>
<circle cx="385.35" cy="490.3" r="1.15" fill="#8a8f94" stroke="#3a3a3a" stroke-width="0.8"/>
<circle cx="385.35" cy="498.7" r="1.15" fill="#8a8f94" stroke="#3a3a3a" stroke-width="0.8"/>
<text x="340.6" y="533.42" font-size="9.5" text-anchor="middle">0</text>
<text x="356.1" y="533.42" font-size="9.5" text-anchor="middle">8</text>
<text x="371.1" y="533.42" font-size="9.5" text-anchor="middle">24</text>
<text x="385.8" y="533.42" font-size="9.5" text-anchor="middle">48</text>
<text x="363.7" y="543.12" font-size="9.5" text-anchor="middle">time (h)</text>
<text x="361.6" y="442.62" font-size="9.5" text-anchor="middle" style="font-style:italic;">Klf4</text>
<line x1="423.3" y1="449.9" x2="423.3" y2="525.1" stroke="#2b2b2b" stroke-width="1.4"/>
<line x1="420.5" y1="450.2" x2="423.3" y2="450.2" stroke="#2b2b2b" stroke-width="1.4"/>
<text x="419.1" y="453.62" font-size="9.5" text-anchor="end">2</text>
<line x1="420.5" y1="487.4" x2="423.3" y2="487.4" stroke="#2b2b2b" stroke-width="1.4"/>
<text x="419.1" y="490.82" font-size="9.5" text-anchor="end">1</text>
<line x1="420.5" y1="524.4" x2="423.3" y2="524.4" stroke="#2b2b2b" stroke-width="1.4"/>
<line x1="420.6" y1="524.4" x2="485.9" y2="524.4" stroke="#2b2b2b" stroke-width="1.4"/>
<rect x="427.95" y="487.75" width="6.7" height="36.65" fill="#c8ccd0" stroke="#222222" stroke-width="1.3"/>
<rect x="444.85" y="481.95" width="6.7" height="42.45" fill="#c8ccd0" stroke="#222222" stroke-width="1.3"/>
<rect x="459.75" y="470.15" width="6.7" height="54.25" fill="#c8ccd0" stroke="#222222" stroke-width="1.3"/>
<rect x="474.25" y="468.85" width="7" height="55.55" fill="#c8ccd0" stroke="#222222" stroke-width="1.3"/>
<line x1="431.3" y1="490.8" x2="431.3" y2="483.4" stroke="#72777c" stroke-width="0.8"/>
<line x1="430.1" y1="483.4" x2="432.5" y2="483.4" stroke="#72777c" stroke-width="0.8"/>
<circle cx="431.3" cy="479.4" r="1.15" fill="#8a8f94" stroke="#3a3a3a" stroke-width="0.8"/>
<circle cx="431.3" cy="488.3" r="1.15" fill="#8a8f94" stroke="#3a3a3a" stroke-width="0.8"/>
<circle cx="431.3" cy="493.9" r="1.15" fill="#8a8f94" stroke="#3a3a3a" stroke-width="0.8"/>
<line x1="448.2" y1="486.4" x2="448.2" y2="476.2" stroke="#72777c" stroke-width="0.8"/>
<line x1="447" y1="476.2" x2="449.4" y2="476.2" stroke="#72777c" stroke-width="0.8"/>
<circle cx="448.2" cy="471.4" r="1.15" fill="#8a8f94" stroke="#3a3a3a" stroke-width="0.8"/>
<circle cx="448.2" cy="482.6" r="1.15" fill="#8a8f94" stroke="#3a3a3a" stroke-width="0.8"/>
<circle cx="448.2" cy="490.3" r="1.15" fill="#8a8f94" stroke="#3a3a3a" stroke-width="0.8"/>
<line x1="463.1" y1="473.2" x2="463.1" y2="465.8" stroke="#72777c" stroke-width="0.8"/>
<line x1="461.9" y1="465.8" x2="464.3" y2="465.8" stroke="#72777c" stroke-width="0.8"/>
<circle cx="463.1" cy="462.6" r="1.15" fill="#8a8f94" stroke="#3a3a3a" stroke-width="0.8"/>
<circle cx="463.1" cy="475.1" r="1.15" fill="#8a8f94" stroke="#3a3a3a" stroke-width="0.8"/>
<circle cx="477.75" cy="467.7" r="1.15" fill="#8a8f94" stroke="#3a3a3a" stroke-width="0.8"/>
<circle cx="477.75" cy="469.3" r="1.15" fill="#8a8f94" stroke="#3a3a3a" stroke-width="0.8"/>
<text x="431.3" y="533.42" font-size="9.5" text-anchor="middle">0</text>
<text x="446.6" y="533.42" font-size="9.5" text-anchor="middle">8</text>
<text x="461.8" y="533.42" font-size="9.5" text-anchor="middle">24</text>
<text x="477.1" y="533.42" font-size="9.5" text-anchor="middle">48</text>
<text x="454.6" y="543.12" font-size="9.5" text-anchor="middle">time (h)</text>
<text x="452.6" y="442.62" font-size="9.5" text-anchor="middle" style="font-style:italic;">Nanog</text>
<line x1="512.5" y1="449.9" x2="512.5" y2="524.8" stroke="#2b2b2b" stroke-width="1.4"/>
<line x1="509.7" y1="450.2" x2="512.5" y2="450.2" stroke="#2b2b2b" stroke-width="1.4"/>
<text x="508.3" y="453.62" font-size="9.5" text-anchor="end">2</text>
<line x1="509.7" y1="487.4" x2="512.5" y2="487.4" stroke="#2b2b2b" stroke-width="1.4"/>
<text x="508.3" y="490.82" font-size="9.5" text-anchor="end">1</text>
<line x1="509.7" y1="524.1" x2="512.5" y2="524.1" stroke="#2b2b2b" stroke-width="1.4"/>
<line x1="510.1" y1="524.1" x2="573.8" y2="524.1" stroke="#2b2b2b" stroke-width="1.4"/>
<rect x="516.35" y="487.25" width="6.7" height="36.85" fill="#c8ccd0" stroke="#222222" stroke-width="1.3"/>
<rect x="532.75" y="496.15" width="7.2" height="27.95" fill="#c8ccd0" stroke="#222222" stroke-width="1.3"/>
<rect x="548.15" y="486.85" width="6.7" height="37.25" fill="#c8ccd0" stroke="#222222" stroke-width="1.3"/>
<rect x="562.45" y="480.05" width="6.7" height="44.05" fill="#c8ccd0" stroke="#222222" stroke-width="1.3"/>
<line x1="519.7" y1="492.2" x2="519.7" y2="481" stroke="#72777c" stroke-width="0.8"/>
<line x1="518.5" y1="481" x2="520.9" y2="481" stroke="#72777c" stroke-width="0.8"/>
<circle cx="519.7" cy="476.5" r="1.15" fill="#8a8f94" stroke="#3a3a3a" stroke-width="0.8"/>
<circle cx="519.7" cy="489.1" r="1.15" fill="#8a8f94" stroke="#3a3a3a" stroke-width="0.8"/>
<circle cx="519.7" cy="493.9" r="1.15" fill="#8a8f94" stroke="#3a3a3a" stroke-width="0.8"/>
<line x1="536.35" y1="498.7" x2="536.35" y2="492.3" stroke="#72777c" stroke-width="0.8"/>
<line x1="535.15" y1="492.3" x2="537.55" y2="492.3" stroke="#72777c" stroke-width="0.8"/>
<circle cx="536.35" cy="488.3" r="1.15" fill="#8a8f94" stroke="#3a3a3a" stroke-width="0.8"/>
<circle cx="536.35" cy="504.3" r="1.15" fill="#8a8f94" stroke="#3a3a3a" stroke-width="0.8"/>
<line x1="551.5" y1="495.4" x2="551.5" y2="477" stroke="#72777c" stroke-width="0.8"/>
<line x1="550.3" y1="477" x2="552.7" y2="477" stroke="#72777c" stroke-width="0.8"/>
<circle cx="551.5" cy="472.2" r="1.15" fill="#8a8f94" stroke="#3a3a3a" stroke-width="0.8"/>
<circle cx="551.5" cy="485" r="1.15" fill="#8a8f94" stroke="#3a3a3a" stroke-width="0.8"/>
<circle cx="551.5" cy="502.2" r="1.15" fill="#8a8f94" stroke="#3a3a3a" stroke-width="0.8"/>
<line x1="565.8" y1="485.5" x2="565.8" y2="473.3" stroke="#72777c" stroke-width="0.8"/>
<line x1="564.6" y1="473.3" x2="567" y2="473.3" stroke="#72777c" stroke-width="0.8"/>
<circle cx="565.8" cy="469.8" r="1.15" fill="#8a8f94" stroke="#3a3a3a" stroke-width="0.8"/>
<circle cx="565.8" cy="490.3" r="1.15" fill="#8a8f94" stroke="#3a3a3a" stroke-width="0.8"/>
<text x="519.7" y="533.42" font-size="9.5" text-anchor="middle">0</text>
<text x="535.4" y="533.42" font-size="9.5" text-anchor="middle">8</text>
<text x="550.7" y="533.42" font-size="9.5" text-anchor="middle">24</text>
<text x="565.5" y="533.42" font-size="9.5" text-anchor="middle">48</text>
<text x="543.3" y="543.12" font-size="9.5" text-anchor="middle">time (h)</text>
<text x="539.5" y="442.62" font-size="9.5" text-anchor="middle" style="font-style:italic;">Pou5f1</text>
<text x="0" y="0" font-size="9.5" text-anchor="middle" transform="translate(216 483.6) rotate(-90)">norm to <tspan font-style="italic">actb</tspan></text>
<text x="0" y="0" font-size="9.5" text-anchor="middle" transform="translate(226.6 483.6) rotate(-90)">(rel to t=0 h)</text>
<rect x="579.5" y="454.9" width="6.4" height="6.4" fill="#c8ccd0" stroke="#222" stroke-width="1.2"/>
<text x="588.8" y="461" font-size="9.5">MAVS ESC</text>
<text x="15.3" y="576.6" font-size="9.6" style="font-weight:bold;">g</text>
<line x1="43" y1="594.1" x2="43" y2="671.9" stroke="#2b2b2b" stroke-width="1.4"/>
<line x1="40.2" y1="594" x2="43" y2="594" stroke="#2b2b2b" stroke-width="1.4"/>
<text x="39.4" y="597.67" font-size="10.2" text-anchor="end">2</text>
<line x1="40.2" y1="632.4" x2="43" y2="632.4" stroke="#2b2b2b" stroke-width="1.4"/>
<text x="39.4" y="636.07" font-size="10.2" text-anchor="end">1</text>
<line x1="40.2" y1="671" x2="43" y2="671" stroke="#2b2b2b" stroke-width="1.4"/>
<text x="39.4" y="674.67" font-size="10.2" text-anchor="end">0</text>
<line x1="43" y1="671.2" x2="106.8" y2="671.2" stroke="#2b2b2b" stroke-width="1.4"/>
<line x1="66.6" y1="671.2" x2="66.6" y2="674.2" stroke="#2b2b2b" stroke-width="1.4"/>
<line x1="85.1" y1="671.2" x2="85.1" y2="674.2" stroke="#2b2b2b" stroke-width="1.4"/>
<rect x="52.85" y="633.25" width="8" height="37.95" fill="#03768c" stroke="#222222" stroke-width="1.3"/>
<rect x="71.35" y="641.65" width="8" height="29.55" fill="#03768c" stroke="#222222" stroke-width="1.3"/>
<rect x="89.75" y="640.55" width="7.9" height="30.65" fill="#03768c" stroke="#222222" stroke-width="1.3"/>
<line x1="56.85" y1="636.1" x2="56.85" y2="629.1" stroke="#72777c" stroke-width="0.8"/>
<line x1="55.65" y1="629.1" x2="58.05" y2="629.1" stroke="#72777c" stroke-width="0.8"/>
<circle cx="56.85" cy="628.1" r="1.15" fill="#8a8f94" stroke="#3a3a3a" stroke-width="0.8"/>
<circle cx="56.85" cy="635.8" r="1.15" fill="#8a8f94" stroke="#3a3a3a" stroke-width="0.8"/>
<circle cx="75.35" cy="638.3" r="1.15" fill="#8a8f94" stroke="#3a3a3a" stroke-width="0.8"/>
<circle cx="75.35" cy="642.3" r="1.15" fill="#8a8f94" stroke="#3a3a3a" stroke-width="0.8"/>
<line x1="93.7" y1="644.8" x2="93.7" y2="635" stroke="#72777c" stroke-width="0.8"/>
<line x1="92.5" y1="635" x2="94.9" y2="635" stroke="#72777c" stroke-width="0.8"/>
<circle cx="93.7" cy="632.3" r="1.15" fill="#8a8f94" stroke="#3a3a3a" stroke-width="0.8"/>
<circle cx="93.7" cy="639.1" r="1.15" fill="#8a8f94" stroke="#3a3a3a" stroke-width="0.8"/>
<circle cx="93.7" cy="649" r="1.15" fill="#8a8f94" stroke="#3a3a3a" stroke-width="0.8"/>
<text x="57" y="681.22" font-size="9.5" text-anchor="middle">0</text>
<text x="75.5" y="681.22" font-size="9.5" text-anchor="middle">10</text>
<text x="95.6" y="681.22" font-size="9.5" text-anchor="middle">100</text>
<text x="79.1" y="691.86" font-size="9.9" text-anchor="middle">IFN-β (pg/ml)</text>
<text x="70.6" y="580.15" font-size="8.2" text-anchor="middle" style="font-style:italic;">Nanog</text>
<line x1="130" y1="594.1" x2="130" y2="671.6" stroke="#2b2b2b" stroke-width="1.4"/>
<line x1="127.2" y1="594.1" x2="130" y2="594.1" stroke="#2b2b2b" stroke-width="1.4"/>
<text x="125.9" y="596.69" font-size="7.2" text-anchor="end">2</text>
<line x1="127.2" y1="632.6" x2="130" y2="632.6" stroke="#2b2b2b" stroke-width="1.4"/>
<text x="125.9" y="635.19" font-size="7.2" text-anchor="end">1</text>
<line x1="127.2" y1="670.9" x2="130" y2="670.9" stroke="#2b2b2b" stroke-width="1.4"/>
<text x="125.9" y="673.49" font-size="7.2" text-anchor="end">0</text>
<line x1="130" y1="670.9" x2="188.8" y2="670.9" stroke="#2b2b2b" stroke-width="1.4"/>
<line x1="149.8" y1="670.9" x2="149.8" y2="673.9" stroke="#2b2b2b" stroke-width="1.4"/>
<line x1="168.7" y1="670.9" x2="168.7" y2="673.9" stroke="#2b2b2b" stroke-width="1.4"/>
<rect x="137.55" y="632.95" width="7.9" height="37.95" fill="#03768c" stroke="#222222" stroke-width="1.3"/>
<rect x="155.75" y="630.85" width="7.8" height="40.05" fill="#03768c" stroke="#222222" stroke-width="1.3"/>
<rect x="174.05" y="629.75" width="8" height="41.15" fill="#03768c" stroke="#222222" stroke-width="1.3"/>
<line x1="141.5" y1="643.2" x2="141.5" y2="621.4" stroke="#72777c" stroke-width="0.8"/>
<line x1="140.3" y1="621.4" x2="142.7" y2="621.4" stroke="#72777c" stroke-width="0.8"/>
<circle cx="141.5" cy="621.1" r="1.15" fill="#8a8f94" stroke="#3a3a3a" stroke-width="0.8"/>
<circle cx="141.5" cy="635.8" r="1.15" fill="#8a8f94" stroke="#3a3a3a" stroke-width="0.8"/>
<circle cx="141.5" cy="639.9" r="1.15" fill="#8a8f94" stroke="#3a3a3a" stroke-width="0.8"/>
<circle cx="159.65" cy="627" r="1.15" fill="#8a8f94" stroke="#3a3a3a" stroke-width="0.8"/>
<circle cx="159.65" cy="631.8" r="1.15" fill="#8a8f94" stroke="#3a3a3a" stroke-width="0.8"/>
<circle cx="178.05" cy="629.1" r="1.15" fill="#8a8f94" stroke="#3a3a3a" stroke-width="0.8"/>
<text x="141.4" y="680.92" font-size="9.5" text-anchor="middle">0</text>
<text x="159.4" y="680.92" font-size="9.5" text-anchor="middle">10</text>
<text x="180" y="680.92" font-size="9.5" text-anchor="middle">100</text>
<text x="163" y="691.86" font-size="9.9" text-anchor="middle">IFN-β (pg/ml)</text>
<text x="158.7" y="579.65" font-size="8.2" text-anchor="middle" style="font-style:italic;">Klf4</text>
<line x1="214.4" y1="594.1" x2="214.4" y2="671.9" stroke="#2b2b2b" stroke-width="1.4"/>
<line x1="211.6" y1="594.1" x2="214.4" y2="594.1" stroke="#2b2b2b" stroke-width="1.4"/>
<text x="210.3" y="596.69" font-size="7.2" text-anchor="end">2</text>
<line x1="211.6" y1="632.6" x2="214.4" y2="632.6" stroke="#2b2b2b" stroke-width="1.4"/>
<text x="210.3" y="635.19" font-size="7.2" text-anchor="end">1</text>
<line x1="211.6" y1="671.2" x2="214.4" y2="671.2" stroke="#2b2b2b" stroke-width="1.4"/>
<text x="210.3" y="673.79" font-size="7.2" text-anchor="end">0</text>
<line x1="214.4" y1="671.2" x2="274.8" y2="671.2" stroke="#2b2b2b" stroke-width="1.4"/>
<line x1="235.4" y1="671.2" x2="235.4" y2="674.2" stroke="#2b2b2b" stroke-width="1.4"/>
<line x1="254.2" y1="671.2" x2="254.2" y2="674.2" stroke="#2b2b2b" stroke-width="1.4"/>
<rect x="221.95" y="632.75" width="7.9" height="38.45" fill="#03768c" stroke="#222222" stroke-width="1.3"/>
<rect x="240.95" y="625.25" width="7.8" height="45.95" fill="#03768c" stroke="#222222" stroke-width="1.3"/>
<rect x="258.95" y="631.35" width="7.8" height="39.85" fill="#03768c" stroke="#222222" stroke-width="1.3"/>
<line x1="225.9" y1="644.1" x2="225.9" y2="614.2" stroke="#72777c" stroke-width="0.8"/>
<line x1="224.7" y1="614.2" x2="227.1" y2="614.2" stroke="#72777c" stroke-width="0.8"/>
<circle cx="225.9" cy="619.5" r="1.15" fill="#8a8f94" stroke="#3a3a3a" stroke-width="0.8"/>
<circle cx="225.9" cy="622.2" r="1.15" fill="#8a8f94" stroke="#3a3a3a" stroke-width="0.8"/>
<circle cx="225.9" cy="652.7" r="1.15" fill="#8a8f94" stroke="#3a3a3a" stroke-width="0.8"/>
<line x1="244.85" y1="630.2" x2="244.85" y2="619" stroke="#72777c" stroke-width="0.8"/>
<line x1="243.65" y1="619" x2="246.05" y2="619" stroke="#72777c" stroke-width="0.8"/>
<circle cx="244.85" cy="619" r="1.15" fill="#8a8f94" stroke="#3a3a3a" stroke-width="0.8"/>
<circle cx="244.85" cy="627" r="1.15" fill="#8a8f94" stroke="#3a3a3a" stroke-width="0.8"/>
<circle cx="244.85" cy="628.1" r="1.15" fill="#8a8f94" stroke="#3a3a3a" stroke-width="0.8"/>
<line x1="262.85" y1="642.7" x2="262.85" y2="614.6" stroke="#72777c" stroke-width="0.8"/>
<line x1="261.65" y1="614.6" x2="264.05" y2="614.6" stroke="#72777c" stroke-width="0.8"/>
<circle cx="262.85" cy="614.6" r="1.15" fill="#8a8f94" stroke="#3a3a3a" stroke-width="0.8"/>
<circle cx="262.85" cy="637.1" r="1.15" fill="#8a8f94" stroke="#3a3a3a" stroke-width="0.8"/>
<circle cx="262.85" cy="641.5" r="1.15" fill="#8a8f94" stroke="#3a3a3a" stroke-width="0.8"/>
<text x="225.3" y="680.92" font-size="9.5" text-anchor="middle">0</text>
<text x="243.5" y="680.92" font-size="9.5" text-anchor="middle">10</text>
<text x="263.6" y="680.92" font-size="9.5" text-anchor="middle">100</text>
<text x="246.5" y="691.86" font-size="9.9" text-anchor="middle">IFN-β (pg/ml)</text>
<text x="242.4" y="579.65" font-size="8.2" text-anchor="middle" style="font-style:italic;">Pou5f1</text>
<line x1="42.6" y1="731.6" x2="42.6" y2="803.6" stroke="#2b2b2b" stroke-width="1.4"/>
<line x1="39.8" y1="741.9" x2="42.6" y2="741.9" stroke="#2b2b2b" stroke-width="1.4"/>
<text x="39.5" y="745.32" font-size="9.5" text-anchor="end">12</text>
<line x1="39.8" y1="762.1" x2="42.6" y2="762.1" stroke="#2b2b2b" stroke-width="1.4"/>
<text x="39.5" y="765.52" font-size="9.5" text-anchor="end">8</text>
<line x1="39.8" y1="782.5" x2="42.6" y2="782.5" stroke="#2b2b2b" stroke-width="1.4"/>
<text x="39.5" y="785.92" font-size="9.5" text-anchor="end">4</text>
<line x1="39.8" y1="802.9" x2="42.6" y2="802.9" stroke="#2b2b2b" stroke-width="1.4"/>
<text x="39.5" y="806.32" font-size="9.5" text-anchor="end">0</text>
<line x1="42.6" y1="802.9" x2="98.3" y2="802.9" stroke="#2b2b2b" stroke-width="1.4"/>
<line x1="62.1" y1="802.9" x2="62.1" y2="805.9" stroke="#2b2b2b" stroke-width="1.4"/>
<line x1="80.6" y1="802.9" x2="80.6" y2="805.9" stroke="#2b2b2b" stroke-width="1.4"/>
<rect x="50.15" y="797.95" width="7" height="4.95" fill="#03768c" stroke="#222222" stroke-width="1.3"/>
<rect x="67.75" y="759.05" width="6.8" height="43.85" fill="#03768c" stroke="#222222" stroke-width="1.3"/>
<rect x="87.35" y="747.05" width="6.7" height="55.85" fill="#03768c" stroke="#222222" stroke-width="1.3"/>
<line x1="53.65" y1="800" x2="53.65" y2="794.6" stroke="#72777c" stroke-width="0.8"/>
<line x1="52.45" y1="794.6" x2="54.85" y2="794.6" stroke="#72777c" stroke-width="0.8"/>
<circle cx="53.65" cy="794.6" r="1.15" fill="#8a8f94" stroke="#3a3a3a" stroke-width="0.8"/>
<circle cx="53.65" cy="799.4" r="1.15" fill="#8a8f94" stroke="#3a3a3a" stroke-width="0.8"/>
<circle cx="53.65" cy="801.8" r="1.15" fill="#8a8f94" stroke="#3a3a3a" stroke-width="0.8"/>
<circle cx="71.15" cy="758.4" r="1.15" fill="#8a8f94" stroke="#3a3a3a" stroke-width="0.8"/>
<circle cx="71.15" cy="759.2" r="1.15" fill="#8a8f94" stroke="#3a3a3a" stroke-width="0.8"/>
<line x1="90.7" y1="749.6" x2="90.7" y2="743.2" stroke="#72777c" stroke-width="0.8"/>
<line x1="89.5" y1="743.2" x2="91.9" y2="743.2" stroke="#72777c" stroke-width="0.8"/>
<circle cx="90.7" cy="742.4" r="1.15" fill="#8a8f94" stroke="#3a3a3a" stroke-width="0.8"/>
<circle cx="90.7" cy="748.8" r="1.15" fill="#8a8f94" stroke="#3a3a3a" stroke-width="0.8"/>
<text x="53" y="814.72" font-size="9.5" text-anchor="middle">0</text>
<text x="71" y="814.72" font-size="9.5" text-anchor="middle">10</text>
<text x="91.2" y="814.72" font-size="9.5" text-anchor="middle">100</text>
<text x="74.3" y="825.76" font-size="9.9" text-anchor="middle">IFN-β (pg/ml)</text>
<text x="71.5" y="712.75" font-size="8.2" text-anchor="middle" style="font-style:italic;">Oas1</text>
<line x1="52.2" y1="751.2" x2="70.7" y2="751.2" stroke="#262626" stroke-width="1.3"/>
<polygon points="56.95,744.7 57.58,745.98 58.99,746.19 57.97,747.18 58.21,748.59 56.95,747.93 55.69,748.59 55.93,747.18 54.91,746.19 56.32,745.98" fill="#333"/>
<polygon points="61.45,744.7 62.08,745.98 63.49,746.19 62.47,747.18 62.71,748.59 61.45,747.93 60.19,748.59 60.43,747.18 59.41,746.19 60.82,745.98" fill="#333"/>
<polygon points="65.95,744.7 66.58,745.98 67.99,746.19 66.97,747.18 67.21,748.59 65.95,747.93 64.69,748.59 64.93,747.18 63.91,746.19 65.32,745.98" fill="#333"/>
<line x1="52.2" y1="737.1" x2="90.7" y2="737.1" stroke="#262626" stroke-width="1.3"/>
<polygon points="69.2,730.6 69.83,731.88 71.24,732.09 70.22,733.08 70.46,734.49 69.2,733.83 67.94,734.49 68.18,733.08 67.16,732.09 68.57,731.88" fill="#333"/>
<polygon points="73.7,730.6 74.33,731.88 75.74,732.09 74.72,733.08 74.96,734.49 73.7,733.83 72.44,734.49 72.68,733.08 71.66,732.09 73.07,731.88" fill="#333"/>
<line x1="128.2" y1="731.6" x2="128.2" y2="804.9" stroke="#2b2b2b" stroke-width="1.4"/>
<line x1="125.4" y1="734" x2="128.2" y2="734" stroke="#2b2b2b" stroke-width="1.4"/>
<text x="124.9" y="737.42" font-size="9.5" text-anchor="end">16</text>
<line x1="125.4" y1="751.5" x2="128.2" y2="751.5" stroke="#2b2b2b" stroke-width="1.4"/>
<text x="124.9" y="754.92" font-size="9.5" text-anchor="end">12</text>
<line x1="125.4" y1="769.2" x2="128.2" y2="769.2" stroke="#2b2b2b" stroke-width="1.4"/>
<text x="124.9" y="772.62" font-size="9.5" text-anchor="end">8</text>
<line x1="125.4" y1="786.9" x2="128.2" y2="786.9" stroke="#2b2b2b" stroke-width="1.4"/>
<text x="124.9" y="790.32" font-size="9.5" text-anchor="end">4</text>
<line x1="125.4" y1="804.2" x2="128.2" y2="804.2" stroke="#2b2b2b" stroke-width="1.4"/>
<text x="124.9" y="807.62" font-size="9.5" text-anchor="end">0</text>
<line x1="128.2" y1="804.2" x2="186.5" y2="804.2" stroke="#2b2b2b" stroke-width="1.4"/>
<line x1="148.8" y1="804.2" x2="148.8" y2="807.2" stroke="#2b2b2b" stroke-width="1.4"/>
<line x1="167" y1="804.2" x2="167" y2="807.2" stroke="#2b2b2b" stroke-width="1.4"/>
<rect x="135.75" y="800.35" width="7.6" height="3.85" fill="#03768c" stroke="#222222" stroke-width="1.3"/>
<rect x="153.75" y="745.95" width="7.2" height="58.25" fill="#03768c" stroke="#222222" stroke-width="1.3"/>
<rect x="172.45" y="741.05" width="7.3" height="63.15" fill="#03768c" stroke="#222222" stroke-width="1.3"/>
<circle cx="139.55" cy="799.4" r="1.15" fill="#8a8f94" stroke="#3a3a3a" stroke-width="0.8"/>
<circle cx="139.55" cy="800.2" r="1.15" fill="#8a8f94" stroke="#3a3a3a" stroke-width="0.8"/>
<line x1="157.35" y1="752.2" x2="157.35" y2="738.4" stroke="#72777c" stroke-width="0.8"/>
<line x1="156.15" y1="738.4" x2="158.55" y2="738.4" stroke="#72777c" stroke-width="0.8"/>
<circle cx="157.35" cy="738.7" r="1.15" fill="#8a8f94" stroke="#3a3a3a" stroke-width="0.8"/>
<circle cx="157.35" cy="741.6" r="1.15" fill="#8a8f94" stroke="#3a3a3a" stroke-width="0.8"/>
<circle cx="157.35" cy="754.7" r="1.15" fill="#8a8f94" stroke="#3a3a3a" stroke-width="0.8"/>
<line x1="176.1" y1="744.4" x2="176.1" y2="736.4" stroke="#72777c" stroke-width="0.8"/>
<line x1="174.9" y1="736.4" x2="177.3" y2="736.4" stroke="#72777c" stroke-width="0.8"/>
<circle cx="176.1" cy="734.8" r="1.15" fill="#8a8f94" stroke="#3a3a3a" stroke-width="0.8"/>
<circle cx="176.1" cy="740" r="1.15" fill="#8a8f94" stroke="#3a3a3a" stroke-width="0.8"/>
<circle cx="176.1" cy="747.7" r="1.15" fill="#8a8f94" stroke="#3a3a3a" stroke-width="0.8"/>
<text x="139.2" y="815.52" font-size="9.5" text-anchor="middle">0</text>
<text x="156.8" y="815.52" font-size="9.5" text-anchor="middle">10</text>
<text x="177.2" y="815.52" font-size="9.5" text-anchor="middle">100</text>
<text x="160.3" y="825.76" font-size="9.9" text-anchor="middle">IFN-β (pg/ml)</text>
<text x="157.5" y="712.75" font-size="8.2" text-anchor="middle" style="font-style:italic;">Stat1</text>
<line x1="140.3" y1="733.5" x2="157.6" y2="733.5" stroke="#262626" stroke-width="1.3"/>
<polygon points="144.45,727 145.08,728.28 146.49,728.49 145.47,729.48 145.71,730.89 144.45,730.23 143.19,730.89 143.43,729.48 142.41,728.49 143.82,728.28" fill="#333"/>
<polygon points="148.95,727 149.58,728.28 150.99,728.49 149.97,729.48 150.21,730.89 148.95,730.23 147.69,730.89 147.93,729.48 146.91,728.49 148.32,728.28" fill="#333"/>
<polygon points="153.45,727 154.08,728.28 155.49,728.49 154.47,729.48 154.71,730.89 153.45,730.23 152.19,730.89 152.43,729.48 151.41,728.49 152.82,728.28" fill="#333"/>
<line x1="141.3" y1="723.9" x2="176.1" y2="723.9" stroke="#262626" stroke-width="1.3"/>
<polygon points="154.2,717.4 154.83,718.68 156.24,718.89 155.22,719.88 155.46,721.29 154.2,720.62 152.94,721.29 153.18,719.88 152.16,718.89 153.57,718.68" fill="#333"/>
<polygon points="158.7,717.4 159.33,718.68 160.74,718.89 159.72,719.88 159.96,721.29 158.7,720.62 157.44,721.29 157.68,719.88 156.66,718.89 158.07,718.68" fill="#333"/>
<polygon points="163.2,717.4 163.83,718.68 165.24,718.89 164.22,719.88 164.46,721.29 163.2,720.62 161.94,721.29 162.18,719.88 161.16,718.89 162.57,718.68" fill="#333"/>
<line x1="215" y1="724.7" x2="215" y2="804.9" stroke="#2b2b2b" stroke-width="1.4"/>
<line x1="212.2" y1="734" x2="215" y2="734" stroke="#2b2b2b" stroke-width="1.4"/>
<text x="210.9" y="737.42" font-size="9.5" text-anchor="end">80</text>
<line x1="212.2" y1="751.5" x2="215" y2="751.5" stroke="#2b2b2b" stroke-width="1.4"/>
<text x="210.9" y="754.92" font-size="9.5" text-anchor="end">60</text>
<line x1="212.2" y1="769.2" x2="215" y2="769.2" stroke="#2b2b2b" stroke-width="1.4"/>
<text x="210.9" y="772.62" font-size="9.5" text-anchor="end">40</text>
<line x1="212.2" y1="786.5" x2="215" y2="786.5" stroke="#2b2b2b" stroke-width="1.4"/>
<text x="210.9" y="789.92" font-size="9.5" text-anchor="end">20</text>
<line x1="212.2" y1="804.2" x2="215" y2="804.2" stroke="#2b2b2b" stroke-width="1.4"/>
<text x="210.9" y="807.62" font-size="9.5" text-anchor="end">0</text>
<line x1="215" y1="804.2" x2="273" y2="804.2" stroke="#2b2b2b" stroke-width="1.4"/>
<line x1="234" y1="804.2" x2="234" y2="807.2" stroke="#2b2b2b" stroke-width="1.4"/>
<line x1="252.8" y1="804.2" x2="252.8" y2="807.2" stroke="#2b2b2b" stroke-width="1.4"/>
<rect x="222.95" y="804.05" width="7.2" height="0.15" fill="#03768c" stroke="#222222" stroke-width="1.3"/>
<rect x="240.25" y="754.75" width="7.2" height="49.45" fill="#03768c" stroke="#222222" stroke-width="1.3"/>
<rect x="258.75" y="749.75" width="7.2" height="54.45" fill="#03768c" stroke="#222222" stroke-width="1.3"/>
<circle cx="226.55" cy="802.3" r="1.15" fill="#8a8f94" stroke="#3a3a3a" stroke-width="0.8"/>
<circle cx="226.55" cy="803.4" r="1.15" fill="#8a8f94" stroke="#3a3a3a" stroke-width="0.8"/>
<line x1="243.85" y1="757.8" x2="243.85" y2="750.4" stroke="#72777c" stroke-width="0.8"/>
<line x1="242.65" y1="750.4" x2="245.05" y2="750.4" stroke="#72777c" stroke-width="0.8"/>
<circle cx="243.85" cy="750.4" r="1.15" fill="#8a8f94" stroke="#3a3a3a" stroke-width="0.8"/>
<circle cx="243.85" cy="755.7" r="1.15" fill="#8a8f94" stroke="#3a3a3a" stroke-width="0.8"/>
<circle cx="243.85" cy="757.3" r="1.15" fill="#8a8f94" stroke="#3a3a3a" stroke-width="0.8"/>
<line x1="262.35" y1="761.1" x2="262.35" y2="733.5" stroke="#72777c" stroke-width="0.8"/>
<line x1="261.15" y1="733.5" x2="263.55" y2="733.5" stroke="#72777c" stroke-width="0.8"/>
<circle cx="262.35" cy="733.5" r="1.15" fill="#8a8f94" stroke="#3a3a3a" stroke-width="0.8"/>
<circle cx="262.35" cy="752" r="1.15" fill="#8a8f94" stroke="#3a3a3a" stroke-width="0.8"/>
<circle cx="262.35" cy="761.2" r="1.15" fill="#8a8f94" stroke="#3a3a3a" stroke-width="0.8"/>
<text x="225.5" y="815.52" font-size="9.5" text-anchor="middle">0</text>
<text x="243.6" y="815.52" font-size="9.5" text-anchor="middle">10</text>
<text x="263.7" y="815.52" font-size="9.5" text-anchor="middle">100</text>
<text x="247" y="825.76" font-size="9.9" text-anchor="middle">IFN-β (pg/ml)</text>
<text x="240.8" y="712.75" font-size="8.2" text-anchor="middle" style="font-style:italic;">Isg15</text>
<line x1="223.1" y1="745.6" x2="244.7" y2="745.6" stroke="#262626" stroke-width="1.3"/>
<polygon points="229.4,739.1 230.03,740.38 231.44,740.59 230.42,741.58 230.66,742.99 229.4,742.33 228.14,742.99 228.38,741.58 227.36,740.59 228.77,740.38" fill="#333"/>
<polygon points="233.9,739.1 234.53,740.38 235.94,740.59 234.92,741.58 235.16,742.99 233.9,742.33 232.64,742.99 232.88,741.58 231.86,740.59 233.27,740.38" fill="#333"/>
<polygon points="238.4,739.1 239.03,740.38 240.44,740.59 239.42,741.58 239.66,742.99 238.4,742.33 237.14,742.99 237.38,741.58 236.36,740.59 237.77,740.38" fill="#333"/>
<line x1="223.1" y1="728.7" x2="263.2" y2="728.7" stroke="#262626" stroke-width="1.3"/>
<polygon points="240.9,722.2 241.53,723.48 242.94,723.69 241.92,724.68 242.16,726.09 240.9,725.43 239.64,726.09 239.88,724.68 238.86,723.69 240.27,723.48" fill="#333"/>
<polygon points="245.4,722.2 246.03,723.48 247.44,723.69 246.42,724.68 246.66,726.09 245.4,725.43 244.14,726.09 244.38,724.68 243.36,723.69 244.77,723.48" fill="#333"/>
<text x="0" y="0" font-size="9.5" text-anchor="middle" transform="translate(15.6 632.6) rotate(-90)">norm to <tspan font-style="italic">actb</tspan></text>
<text x="0" y="0" font-size="9.5" text-anchor="middle" transform="translate(26.2 632.6) rotate(-90)">(rel to untreated)</text>
<text x="0" y="0" font-size="9.5" text-anchor="middle" transform="translate(13.3 768.1) rotate(-90)">norm to <tspan font-style="italic">actb</tspan></text>
<text x="0" y="0" font-size="9.5" text-anchor="middle" transform="translate(23.8 768.1) rotate(-90)">(rel to untreated)</text>
<text x="301.2" y="578.6" font-size="9.6" style="font-weight:bold;">h</text>
<line x1="348.6" y1="609.6" x2="348.6" y2="670.9" stroke="#2b2b2b" stroke-width="1.4"/>
<line x1="345.8" y1="620.1" x2="348.6" y2="620.1" stroke="#2b2b2b" stroke-width="1.4"/>
<text x="345.6" y="623.52" font-size="9.5" text-anchor="end">1.0</text>
<line x1="345.8" y1="645.3" x2="348.6" y2="645.3" stroke="#2b2b2b" stroke-width="1.4"/>
<text x="345.6" y="648.72" font-size="9.5" text-anchor="end">0.5</text>
<line x1="345.8" y1="670.2" x2="348.6" y2="670.2" stroke="#2b2b2b" stroke-width="1.4"/>
<text x="345.6" y="673.62" font-size="9.5" text-anchor="end">0.0</text>
<line x1="348.6" y1="670.2" x2="397.6" y2="670.2" stroke="#2b2b2b" stroke-width="1.4"/>
<rect x="356.85" y="620.75" width="6.7" height="49.45" fill="#ffffff" stroke="#222222" stroke-width="1.3"/>
<rect x="371.25" y="646.75" width="6.7" height="23.45" fill="#06618a" stroke="#222222" stroke-width="1.3"/>
<rect x="387.05" y="644.35" width="6.7" height="25.85" fill="#b6619f" stroke="#222222" stroke-width="1.3"/>
<circle cx="360.2" cy="619.6" r="1.15" fill="#8a8f94" stroke="#3a3a3a" stroke-width="0.8"/>
<circle cx="360.2" cy="620.4" r="1.15" fill="#8a8f94" stroke="#3a3a3a" stroke-width="0.8"/>
<line x1="374.6" y1="651.7" x2="374.6" y2="640.5" stroke="#72777c" stroke-width="0.8"/>
<line x1="373.4" y1="640.5" x2="375.8" y2="640.5" stroke="#72777c" stroke-width="0.8"/>
<circle cx="374.6" cy="640.5" r="1.15" fill="#8a8f94" stroke="#3a3a3a" stroke-width="0.8"/>
<circle cx="374.6" cy="646.9" r="1.15" fill="#8a8f94" stroke="#3a3a3a" stroke-width="0.8"/>
<circle cx="374.6" cy="649.8" r="1.15" fill="#8a8f94" stroke="#3a3a3a" stroke-width="0.8"/>
<line x1="390.4" y1="647.7" x2="390.4" y2="639.7" stroke="#72777c" stroke-width="0.8"/>
<line x1="389.2" y1="639.7" x2="391.6" y2="639.7" stroke="#72777c" stroke-width="0.8"/>
<circle cx="390.4" cy="637" r="1.15" fill="#8a8f94" stroke="#3a3a3a" stroke-width="0.8"/>
<circle cx="390.4" cy="647.7" r="1.15" fill="#8a8f94" stroke="#3a3a3a" stroke-width="0.8"/>
<text x="376.8" y="580.6" font-size="8.6" text-anchor="middle" style="font-style:italic;">Pou5f1</text>
<line x1="360.7" y1="612.7" x2="378" y2="612.7" stroke="#262626" stroke-width="1.3"/>
<polygon points="364.85,605.8 365.48,607.08 366.89,607.29 365.87,608.28 366.11,609.69 364.85,609.03 363.59,609.69 363.83,608.28 362.81,607.29 364.22,607.08" fill="#333"/>
<polygon points="369.35,605.8 369.98,607.08 371.39,607.29 370.37,608.28 370.61,609.69 369.35,609.03 368.09,609.69 368.33,608.28 367.31,607.29 368.72,607.08" fill="#333"/>
<polygon points="373.85,605.8 374.48,607.08 375.89,607.29 374.87,608.28 375.11,609.69 373.85,609.03 372.59,609.69 372.83,608.28 371.81,607.29 373.22,607.08" fill="#333"/>
<line x1="359.9" y1="600.7" x2="394.4" y2="600.7" stroke="#262626" stroke-width="1.3"/>
<polygon points="372.65,593.8 373.28,595.08 374.69,595.29 373.67,596.28 373.91,597.69 372.65,597.03 371.39,597.69 371.63,596.28 370.61,595.29 372.02,595.08" fill="#333"/>
<polygon points="377.15,593.8 377.78,595.08 379.19,595.29 378.17,596.28 378.41,597.69 377.15,597.03 375.89,597.69 376.13,596.28 375.11,595.29 376.52,595.08" fill="#333"/>
<polygon points="381.65,593.8 382.28,595.08 383.69,595.29 382.67,596.28 382.91,597.69 381.65,597.03 380.39,597.69 380.63,596.28 379.61,595.29 381.02,595.08" fill="#333"/>
<line x1="423.7" y1="610.8" x2="423.7" y2="670.9" stroke="#2b2b2b" stroke-width="1.4"/>
<line x1="420.9" y1="620.4" x2="423.7" y2="620.4" stroke="#2b2b2b" stroke-width="1.4"/>
<text x="419.1" y="623.82" font-size="9.5" text-anchor="end">1.0</text>
<line x1="420.9" y1="645.6" x2="423.7" y2="645.6" stroke="#2b2b2b" stroke-width="1.4"/>
<text x="419.1" y="649.02" font-size="9.5" text-anchor="end">0.5</text>
<line x1="420.9" y1="670.2" x2="423.7" y2="670.2" stroke="#2b2b2b" stroke-width="1.4"/>
<text x="419.1" y="673.62" font-size="9.5" text-anchor="end">0.0</text>
<line x1="423.7" y1="670.2" x2="473.5" y2="670.2" stroke="#2b2b2b" stroke-width="1.4"/>
<rect x="432.05" y="620.75" width="6.8" height="49.45" fill="#ffffff" stroke="#222222" stroke-width="1.3"/>
<rect x="446.85" y="633.05" width="6.7" height="37.15" fill="#06618a" stroke="#222222" stroke-width="1.3"/>
<rect x="461.65" y="635.15" width="6.7" height="35.05" fill="#b6619f" stroke="#222222" stroke-width="1.3"/>
<line x1="435.45" y1="622.5" x2="435.45" y2="617.7" stroke="#72777c" stroke-width="0.8"/>
<line x1="434.25" y1="617.7" x2="436.65" y2="617.7" stroke="#72777c" stroke-width="0.8"/>
<circle cx="435.45" cy="615.1" r="1.15" fill="#8a8f94" stroke="#3a3a3a" stroke-width="0.8"/>
<circle cx="435.45" cy="621.5" r="1.15" fill="#8a8f94" stroke="#3a3a3a" stroke-width="0.8"/>
<circle cx="435.45" cy="623.6" r="1.15" fill="#8a8f94" stroke="#3a3a3a" stroke-width="0.8"/>
<circle cx="450.2" cy="630" r="1.15" fill="#8a8f94" stroke="#3a3a3a" stroke-width="0.8"/>
<circle cx="450.2" cy="634" r="1.15" fill="#8a8f94" stroke="#3a3a3a" stroke-width="0.8"/>
<line x1="465" y1="638.2" x2="465" y2="630.8" stroke="#72777c" stroke-width="0.8"/>
<line x1="463.8" y1="630.8" x2="466.2" y2="630.8" stroke="#72777c" stroke-width="0.8"/>
<circle cx="465" cy="628" r="1.15" fill="#8a8f94" stroke="#3a3a3a" stroke-width="0.8"/>
<circle cx="465" cy="636.5" r="1.15" fill="#8a8f94" stroke="#3a3a3a" stroke-width="0.8"/>
<circle cx="465" cy="640.2" r="1.15" fill="#8a8f94" stroke="#3a3a3a" stroke-width="0.8"/>
<text x="448.3" y="580.6" font-size="8.6" text-anchor="middle" style="font-style:italic;">Nanog</text>
<line x1="434.2" y1="607.1" x2="451" y2="607.1" stroke="#262626" stroke-width="1.3"/>
<polygon points="442.6,601.2 443.23,602.48 444.64,602.69 443.62,603.68 443.86,605.09 442.6,604.43 441.34,605.09 441.58,603.68 440.56,602.69 441.97,602.48" fill="#333"/>
<line x1="435" y1="596" x2="465.8" y2="596" stroke="#262626" stroke-width="1.3"/>
<polygon points="448.15,589.7 448.78,590.98 450.19,591.19 449.17,592.18 449.41,593.59 448.15,592.93 446.89,593.59 447.13,592.18 446.11,591.19 447.52,590.98" fill="#333"/>
<polygon points="452.65,589.7 453.28,590.98 454.69,591.19 453.67,592.18 453.91,593.59 452.65,592.93 451.39,593.59 451.63,592.18 450.61,591.19 452.02,590.98" fill="#333"/>
<line x1="495.4" y1="615.6" x2="495.4" y2="671.2" stroke="#2b2b2b" stroke-width="1.4"/>
<line x1="492.6" y1="631.3" x2="495.4" y2="631.3" stroke="#2b2b2b" stroke-width="1.4"/>
<text x="491.9" y="627.02" font-size="9.5" text-anchor="end">1.0</text>
<line x1="492.6" y1="651.2" x2="495.4" y2="651.2" stroke="#2b2b2b" stroke-width="1.4"/>
<text x="491.9" y="653.52" font-size="9.5" text-anchor="end">0.5</text>
<line x1="492.6" y1="670.5" x2="495.4" y2="670.5" stroke="#2b2b2b" stroke-width="1.4"/>
<text x="491.9" y="676.32" font-size="9.5" text-anchor="end">0.0</text>
<line x1="492.5" y1="670.5" x2="546.6" y2="670.5" stroke="#2b2b2b" stroke-width="1.4"/>
<rect x="503.85" y="631.85" width="7.3" height="38.65" fill="#ffffff" stroke="#222222" stroke-width="1.3"/>
<rect x="518.85" y="641.65" width="7.2" height="28.85" fill="#06618a" stroke="#222222" stroke-width="1.3"/>
<rect x="534.05" y="659.95" width="7.1" height="10.55" fill="#b6619f" stroke="#222222" stroke-width="1.3"/>
<line x1="507.5" y1="637.2" x2="507.5" y2="625.2" stroke="#72777c" stroke-width="0.8"/>
<line x1="506.3" y1="625.2" x2="508.7" y2="625.2" stroke="#72777c" stroke-width="0.8"/>
<circle cx="507.5" cy="619.3" r="1.15" fill="#8a8f94" stroke="#3a3a3a" stroke-width="0.8"/>
<circle cx="507.5" cy="637.3" r="1.15" fill="#8a8f94" stroke="#3a3a3a" stroke-width="0.8"/>
<circle cx="507.5" cy="639.7" r="1.15" fill="#8a8f94" stroke="#3a3a3a" stroke-width="0.8"/>
<line x1="522.45" y1="645.5" x2="522.45" y2="636.5" stroke="#72777c" stroke-width="0.8"/>
<line x1="521.25" y1="636.5" x2="523.65" y2="636.5" stroke="#72777c" stroke-width="0.8"/>
<circle cx="522.45" cy="632.8" r="1.15" fill="#8a8f94" stroke="#3a3a3a" stroke-width="0.8"/>
<circle cx="522.45" cy="643.7" r="1.15" fill="#8a8f94" stroke="#3a3a3a" stroke-width="0.8"/>
<circle cx="522.45" cy="647.7" r="1.15" fill="#8a8f94" stroke="#3a3a3a" stroke-width="0.8"/>
<line x1="537.6" y1="661.7" x2="537.6" y2="656.9" stroke="#72777c" stroke-width="0.8"/>
<line x1="536.4" y1="656.9" x2="538.8" y2="656.9" stroke="#72777c" stroke-width="0.8"/>
<circle cx="537.6" cy="656.5" r="1.15" fill="#8a8f94" stroke="#3a3a3a" stroke-width="0.8"/>
<circle cx="537.6" cy="658.6" r="1.15" fill="#8a8f94" stroke="#3a3a3a" stroke-width="0.8"/>
<circle cx="537.6" cy="663.8" r="1.15" fill="#8a8f94" stroke="#3a3a3a" stroke-width="0.8"/>
<text x="518" y="580.6" font-size="8.6" text-anchor="middle" style="font-style:italic;">Klf4</text>
<line x1="508.2" y1="610.8" x2="539.5" y2="610.8" stroke="#262626" stroke-width="1.3"/>
<polygon points="521.6,604.2 522.23,605.48 523.64,605.69 522.62,606.68 522.86,608.09 521.6,607.42 520.34,608.09 520.58,606.68 519.56,605.69 520.97,605.48" fill="#333"/>
<polygon points="526.1,604.2 526.73,605.48 528.14,605.69 527.12,606.68 527.36,608.09 526.1,607.42 524.84,608.09 525.08,606.68 524.06,605.69 525.47,605.48" fill="#333"/>
<line x1="349.7" y1="714.7" x2="349.7" y2="771.2" stroke="#2b2b2b" stroke-width="1.4"/>
<line x1="346.9" y1="721.3" x2="349.7" y2="721.3" stroke="#2b2b2b" stroke-width="1.4"/>
<text x="345.2" y="724.72" font-size="9.5" text-anchor="end">4</text>
<line x1="346.9" y1="733.7" x2="349.7" y2="733.7" stroke="#2b2b2b" stroke-width="1.4"/>
<text x="345.2" y="737.12" font-size="9.5" text-anchor="end">3</text>
<line x1="346.9" y1="745.8" x2="349.7" y2="745.8" stroke="#2b2b2b" stroke-width="1.4"/>
<text x="345.2" y="749.22" font-size="9.5" text-anchor="end">2</text>
<line x1="346.9" y1="758.3" x2="349.7" y2="758.3" stroke="#2b2b2b" stroke-width="1.4"/>
<text x="345.2" y="761.72" font-size="9.5" text-anchor="end">1</text>
<line x1="346.9" y1="770.5" x2="349.7" y2="770.5" stroke="#2b2b2b" stroke-width="1.4"/>
<text x="345.2" y="773.92" font-size="9.5" text-anchor="end">0</text>
<line x1="349.7" y1="770.5" x2="400" y2="770.5" stroke="#2b2b2b" stroke-width="1.4"/>
<rect x="358.15" y="758.65" width="7" height="11.85" fill="#ffffff" stroke="#222222" stroke-width="1.3"/>
<rect x="373.15" y="730.65" width="7" height="39.85" fill="#06618a" stroke="#222222" stroke-width="1.3"/>
<rect x="389.35" y="746.95" width="6.7" height="23.55" fill="#b6619f" stroke="#222222" stroke-width="1.3"/>
<circle cx="361.65" cy="756.3" r="1.15" fill="#8a8f94" stroke="#3a3a3a" stroke-width="0.8"/>
<circle cx="361.65" cy="757.5" r="1.15" fill="#8a8f94" stroke="#3a3a3a" stroke-width="0.8"/>
<circle cx="361.65" cy="760" r="1.15" fill="#8a8f94" stroke="#3a3a3a" stroke-width="0.8"/>
<line x1="376.65" y1="735.8" x2="376.65" y2="724.2" stroke="#72777c" stroke-width="0.8"/>
<line x1="375.45" y1="724.2" x2="377.85" y2="724.2" stroke="#72777c" stroke-width="0.8"/>
<circle cx="376.65" cy="719.7" r="1.15" fill="#8a8f94" stroke="#3a3a3a" stroke-width="0.8"/>
<circle cx="376.65" cy="734.2" r="1.15" fill="#8a8f94" stroke="#3a3a3a" stroke-width="0.8"/>
<circle cx="376.65" cy="739.7" r="1.15" fill="#8a8f94" stroke="#3a3a3a" stroke-width="0.8"/>
<line x1="392.7" y1="747.6" x2="392.7" y2="745" stroke="#72777c" stroke-width="0.8"/>
<line x1="391.5" y1="745" x2="393.9" y2="745" stroke="#72777c" stroke-width="0.8"/>
<circle cx="392.7" cy="743.3" r="1.15" fill="#8a8f94" stroke="#3a3a3a" stroke-width="0.8"/>
<circle cx="392.7" cy="752" r="1.15" fill="#8a8f94" stroke="#3a3a3a" stroke-width="0.8"/>
<text x="376.1" y="699.4" font-size="8.6" text-anchor="middle" style="font-style:italic;">Oas1a</text>
<line x1="357.5" y1="713" x2="377.5" y2="713" stroke="#262626" stroke-width="1.3"/>
<polygon points="365.25,705.7 365.88,706.98 367.29,707.19 366.27,708.18 366.51,709.59 365.25,708.93 363.99,709.59 364.23,708.18 363.21,707.19 364.62,706.98" fill="#333"/>
<polygon points="369.75,705.7 370.38,706.98 371.79,707.19 370.77,708.18 371.01,709.59 369.75,708.93 368.49,709.59 368.73,708.18 367.71,707.19 369.12,706.98" fill="#333"/>
<line x1="423.4" y1="705.6" x2="423.4" y2="770.2" stroke="#2b2b2b" stroke-width="1.4"/>
<line x1="420.6" y1="705.6" x2="423.4" y2="705.6" stroke="#2b2b2b" stroke-width="1.4"/>
<text x="419.1" y="709.02" font-size="9.5" text-anchor="end">2</text>
<line x1="420.6" y1="737.5" x2="423.4" y2="737.5" stroke="#2b2b2b" stroke-width="1.4"/>
<text x="419.1" y="740.92" font-size="9.5" text-anchor="end">1</text>
<line x1="420.6" y1="769.5" x2="423.4" y2="769.5" stroke="#2b2b2b" stroke-width="1.4"/>
<text x="419.1" y="772.92" font-size="9.5" text-anchor="end">0</text>
<line x1="419.7" y1="769.5" x2="474.3" y2="769.5" stroke="#2b2b2b" stroke-width="1.4"/>
<rect x="432.05" y="738.05" width="6.8" height="31.45" fill="#ffffff" stroke="#222222" stroke-width="1.3"/>
<rect x="447.15" y="720.85" width="6.8" height="48.65" fill="#06618a" stroke="#222222" stroke-width="1.3"/>
<rect x="462.15" y="748.75" width="6.7" height="20.75" fill="#b6619f" stroke="#222222" stroke-width="1.3"/>
<line x1="435.45" y1="742.7" x2="435.45" y2="732.1" stroke="#72777c" stroke-width="0.8"/>
<line x1="434.25" y1="732.1" x2="436.65" y2="732.1" stroke="#72777c" stroke-width="0.8"/>
<circle cx="435.45" cy="726.6" r="1.15" fill="#8a8f94" stroke="#3a3a3a" stroke-width="0.8"/>
<circle cx="435.45" cy="739.8" r="1.15" fill="#8a8f94" stroke="#3a3a3a" stroke-width="0.8"/>
<circle cx="435.45" cy="745.4" r="1.15" fill="#8a8f94" stroke="#3a3a3a" stroke-width="0.8"/>
<circle cx="450.55" cy="716.5" r="1.15" fill="#8a8f94" stroke="#3a3a3a" stroke-width="0.8"/>
<circle cx="450.55" cy="718.6" r="1.15" fill="#8a8f94" stroke="#3a3a3a" stroke-width="0.8"/>
<circle cx="450.55" cy="724.5" r="1.15" fill="#8a8f94" stroke="#3a3a3a" stroke-width="0.8"/>
<line x1="465.5" y1="750.8" x2="465.5" y2="745.4" stroke="#72777c" stroke-width="0.8"/>
<line x1="464.3" y1="745.4" x2="466.7" y2="745.4" stroke="#72777c" stroke-width="0.8"/>
<circle cx="465.5" cy="743.5" r="1.15" fill="#8a8f94" stroke="#3a3a3a" stroke-width="0.8"/>
<circle cx="465.5" cy="746.2" r="1.15" fill="#8a8f94" stroke="#3a3a3a" stroke-width="0.8"/>
<circle cx="465.5" cy="752.6" r="1.15" fill="#8a8f94" stroke="#3a3a3a" stroke-width="0.8"/>
<text x="456.6" y="699.2" font-size="8.6" text-anchor="middle" style="font-style:italic;">Oas1g</text>
<line x1="434.2" y1="710.9" x2="450.7" y2="710.9" stroke="#262626" stroke-width="1.3"/>
<polygon points="442.45,705 443.08,706.28 444.49,706.49 443.47,707.48 443.71,708.89 442.45,708.23 441.19,708.89 441.43,707.48 440.41,706.49 441.82,706.28" fill="#333"/>
<line x1="495.4" y1="713" x2="495.4" y2="771.3" stroke="#2b2b2b" stroke-width="1.4"/>
<line x1="492.6" y1="713" x2="495.4" y2="713" stroke="#2b2b2b" stroke-width="1.4"/>
<text x="491.1" y="716.42" font-size="9.5" text-anchor="end">3</text>
<line x1="492.6" y1="732.6" x2="495.4" y2="732.6" stroke="#2b2b2b" stroke-width="1.4"/>
<text x="491.1" y="736.02" font-size="9.5" text-anchor="end">2</text>
<line x1="492.6" y1="751.5" x2="495.4" y2="751.5" stroke="#2b2b2b" stroke-width="1.4"/>
<text x="491.1" y="754.92" font-size="9.5" text-anchor="end">1</text>
<line x1="492.6" y1="770.6" x2="495.4" y2="770.6" stroke="#2b2b2b" stroke-width="1.4"/>
<text x="491.1" y="774.02" font-size="9.5" text-anchor="end">0</text>
<line x1="493.3" y1="770.6" x2="550.3" y2="770.6" stroke="#2b2b2b" stroke-width="1.4"/>
<rect x="504.05" y="751.95" width="7.4" height="18.65" fill="#ffffff" stroke="#222222" stroke-width="1.3"/>
<rect x="520.95" y="738.05" width="6.7" height="32.55" fill="#06618a" stroke="#222222" stroke-width="1.3"/>
<rect x="536.85" y="752.75" width="7.2" height="17.85" fill="#b6619f" stroke="#222222" stroke-width="1.3"/>
<line x1="507.75" y1="755.6" x2="507.75" y2="747" stroke="#72777c" stroke-width="0.8"/>
<line x1="506.55" y1="747" x2="508.95" y2="747" stroke="#72777c" stroke-width="0.8"/>
<circle cx="507.75" cy="743" r="1.15" fill="#8a8f94" stroke="#3a3a3a" stroke-width="0.8"/>
<circle cx="507.75" cy="754.2" r="1.15" fill="#8a8f94" stroke="#3a3a3a" stroke-width="0.8"/>
<circle cx="507.75" cy="756.6" r="1.15" fill="#8a8f94" stroke="#3a3a3a" stroke-width="0.8"/>
<line x1="524.3" y1="745.5" x2="524.3" y2="729.3" stroke="#72777c" stroke-width="0.8"/>
<line x1="523.1" y1="729.3" x2="525.5" y2="729.3" stroke="#72777c" stroke-width="0.8"/>
<circle cx="524.3" cy="722.1" r="1.15" fill="#8a8f94" stroke="#3a3a3a" stroke-width="0.8"/>
<circle cx="524.3" cy="742.2" r="1.15" fill="#8a8f94" stroke="#3a3a3a" stroke-width="0.8"/>
<circle cx="524.3" cy="749.1" r="1.15" fill="#8a8f94" stroke="#3a3a3a" stroke-width="0.8"/>
<line x1="540.45" y1="758" x2="540.45" y2="746.2" stroke="#72777c" stroke-width="0.8"/>
<line x1="539.25" y1="746.2" x2="541.65" y2="746.2" stroke="#72777c" stroke-width="0.8"/>
<circle cx="540.45" cy="741.1" r="1.15" fill="#8a8f94" stroke="#3a3a3a" stroke-width="0.8"/>
<circle cx="540.45" cy="755.5" r="1.15" fill="#8a8f94" stroke="#3a3a3a" stroke-width="0.8"/>
<circle cx="540.45" cy="760.3" r="1.15" fill="#8a8f94" stroke="#3a3a3a" stroke-width="0.8"/>
<text x="527" y="699.2" font-size="8.6" text-anchor="middle" style="font-style:italic;">Herc6</text>
<line x1="575.6" y1="710.9" x2="575.6" y2="771" stroke="#2b2b2b" stroke-width="1.4"/>
<line x1="572.8" y1="710.9" x2="575.6" y2="710.9" stroke="#2b2b2b" stroke-width="1.4"/>
<text x="569.8" y="714.32" font-size="9.5" text-anchor="end">8</text>
<line x1="572.8" y1="726.1" x2="575.6" y2="726.1" stroke="#2b2b2b" stroke-width="1.4"/>
<text x="569.8" y="729.52" font-size="9.5" text-anchor="end">6</text>
<line x1="572.8" y1="741.1" x2="575.6" y2="741.1" stroke="#2b2b2b" stroke-width="1.4"/>
<text x="569.8" y="744.52" font-size="9.5" text-anchor="end">4</text>
<line x1="572.8" y1="755.8" x2="575.6" y2="755.8" stroke="#2b2b2b" stroke-width="1.4"/>
<text x="569.8" y="759.22" font-size="9.5" text-anchor="end">2</text>
<line x1="572.8" y1="770.3" x2="575.6" y2="770.3" stroke="#2b2b2b" stroke-width="1.4"/>
<text x="569.8" y="773.72" font-size="9.5" text-anchor="end">0</text>
<line x1="572" y1="770.3" x2="629.9" y2="770.3" stroke="#2b2b2b" stroke-width="1.4"/>
<rect x="583.95" y="763.75" width="7.8" height="6.55" fill="#ffffff" stroke="#222222" stroke-width="1.3"/>
<rect x="599.95" y="731.95" width="7.6" height="38.35" fill="#06618a" stroke="#222222" stroke-width="1.3"/>
<rect x="616.35" y="744.45" width="7.6" height="25.85" fill="#b6619f" stroke="#222222" stroke-width="1.3"/>
<circle cx="587.85" cy="762.6" r="1.15" fill="#8a8f94" stroke="#3a3a3a" stroke-width="0.8"/>
<circle cx="587.85" cy="764.2" r="1.15" fill="#8a8f94" stroke="#3a3a3a" stroke-width="0.8"/>
<line x1="603.75" y1="738.6" x2="603.75" y2="724" stroke="#72777c" stroke-width="0.8"/>
<line x1="602.55" y1="724" x2="604.95" y2="724" stroke="#72777c" stroke-width="0.8"/>
<circle cx="603.75" cy="721.3" r="1.15" fill="#8a8f94" stroke="#3a3a3a" stroke-width="0.8"/>
<circle cx="603.75" cy="730.5" r="1.15" fill="#8a8f94" stroke="#3a3a3a" stroke-width="0.8"/>
<circle cx="603.75" cy="743.3" r="1.15" fill="#8a8f94" stroke="#3a3a3a" stroke-width="0.8"/>
<line x1="620.15" y1="747" x2="620.15" y2="740.6" stroke="#72777c" stroke-width="0.8"/>
<line x1="618.95" y1="740.6" x2="621.35" y2="740.6" stroke="#72777c" stroke-width="0.8"/>
<circle cx="620.15" cy="737.4" r="1.15" fill="#8a8f94" stroke="#3a3a3a" stroke-width="0.8"/>
<circle cx="620.15" cy="745.4" r="1.15" fill="#8a8f94" stroke="#3a3a3a" stroke-width="0.8"/>
<circle cx="620.15" cy="749.7" r="1.15" fill="#8a8f94" stroke="#3a3a3a" stroke-width="0.8"/>
<text x="603.1" y="698.7" font-size="8.6" text-anchor="middle" style="font-style:italic;">Ifih1</text>
<line x1="583.3" y1="716.2" x2="604.2" y2="716.2" stroke="#262626" stroke-width="1.3"/>
<polygon points="591.5,710.9 592.13,712.18 593.54,712.39 592.52,713.38 592.76,714.79 591.5,714.13 590.24,714.79 590.48,713.38 589.46,712.39 590.87,712.18" fill="#333"/>
<polygon points="596,710.9 596.63,712.18 598.04,712.39 597.02,713.38 597.26,714.79 596,714.13 594.74,714.79 594.98,713.38 593.96,712.39 595.37,712.18" fill="#333"/>
<line x1="583.3" y1="707.3" x2="620.7" y2="707.3" stroke="#262626" stroke-width="1.3"/>
<polygon points="602,702.2 602.63,703.48 604.04,703.69 603.02,704.68 603.26,706.09 602,705.42 600.74,706.09 600.98,704.68 599.96,703.69 601.37,703.48" fill="#333"/>
<text x="0" y="0" font-size="9.5" text-anchor="middle" transform="translate(315.4 643) rotate(-90)">norm to <tspan font-style="italic">actb</tspan></text>
<text x="0" y="0" font-size="9.5" text-anchor="middle" transform="translate(325.6 643) rotate(-90)">(rel to untreated)</text>
<text x="0" y="0" font-size="9.5" text-anchor="middle" transform="translate(316 745) rotate(-90)">norm to <tspan font-style="italic">actb</tspan></text>
<text x="0" y="0" font-size="9.5" text-anchor="middle" transform="translate(326.4 745) rotate(-90)">(rel to untreated)</text>
<rect x="559.5" y="621.9" width="5.4" height="5.6" fill="#ffffff" stroke="#222" stroke-width="1.2"/>
<text x="567.7" y="628.02" font-size="9.5">ESC (-dox - ruxo)</text>
<rect x="559.5" y="636.5" width="5.4" height="5.6" fill="#06618a" stroke="#222" stroke-width="1.2"/>
<text x="567.7" y="642.82" font-size="9.5">MDA5 (+dox -ruxo)</text>
<rect x="559.5" y="651.8" width="5.4" height="5.6" fill="#b6619f" stroke="#222" stroke-width="1.2"/>
<text x="567.7" y="658.22" font-size="9.5">MDA5 w/o IFN signalling</text>
<text x="567.7" y="669.42" font-size="9.5">(+dox +ruxo)</text>
</g>
</svg></body></html>
